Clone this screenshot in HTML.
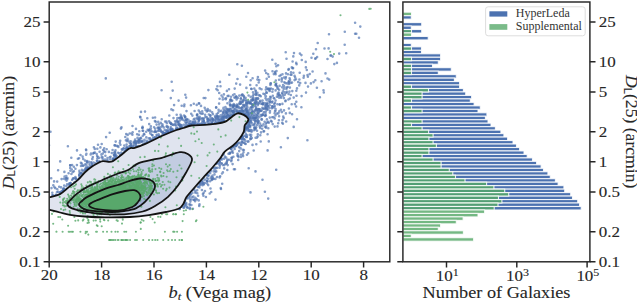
<!DOCTYPE html><html><head><meta charset="utf-8"><style>html,body{margin:0;padding:0;background:#fff;}svg{display:block;}</style></head><body>
<svg width="637" height="302" viewBox="0 0 637 302" font-family="Liberation Serif, serif" fill="#262626">
<rect width="637" height="302" fill="#fff"/>
<defs><clipPath id="cl"><rect x="49.2" y="2.0" width="340.6" height="259.8"/></clipPath></defs>
<g clip-path="url(#cl)">
<path d="M108.2 160.5h0M253.0 92.4h0M281.8 78.3h0M257.1 102.1h0M240.7 108.3h0M189.7 205.1h0M110.6 156.8h0M241.9 141.2h0M224.3 121.4h0M206.8 111.4h0M207.1 181.0h0M66.4 186.3h0M176.1 128.9h0M223.2 118.4h0M238.5 157.1h0M250.6 122.4h0M150.9 128.8h0M223.1 113.4h0M245.6 115.0h0M250.7 137.6h0M242.0 102.0h0M85.0 160.6h0M263.0 108.7h0M286.0 73.4h0M105.3 152.1h0M207.7 121.9h0M266.8 122.6h0M288.9 108.5h0M209.5 122.7h0M189.6 124.0h0M292.3 91.1h0M189.3 195.1h0M238.6 106.6h0M206.9 175.2h0M249.2 121.3h0M315.3 80.2h0M219.2 93.0h0M243.6 95.9h0M135.3 141.4h0M229.8 108.8h0M279.1 79.7h0M250.7 120.6h0M246.6 103.3h0M190.9 105.3h0M49.0 190.1h0M87.1 169.0h0M233.5 112.1h0M193.5 199.7h0M255.0 121.1h0M237.5 105.3h0M104.2 148.4h0M285.6 100.5h0M226.6 163.6h0M264.6 121.7h0M270.7 97.2h0M257.7 116.3h0M261.5 119.4h0M252.5 117.4h0M180.4 125.5h0M254.1 119.9h0M240.8 145.1h0M279.1 116.3h0M309.7 74.1h0M236.6 109.6h0M216.2 168.3h0M255.3 129.5h0M249.4 126.9h0M231.0 96.7h0M262.9 113.7h0M191.1 123.8h0M257.7 124.6h0M208.5 121.9h0M202.3 181.8h0M53.3 185.2h0M275.5 115.4h0M276.9 86.2h0M215.6 120.7h0M193.2 122.2h0M270.2 101.8h0M86.4 166.6h0M282.5 93.9h0M150.1 128.9h0M189.2 123.7h0M245.9 133.9h0M105.4 155.7h0M198.7 200.4h0M282.5 74.2h0M240.7 101.8h0M282.9 123.8h0M228.6 118.0h0M248.0 73.0h0M250.5 192.4h0M241.9 110.2h0M323.5 90.2h0M237.4 144.8h0M241.6 113.9h0M234.0 112.0h0M255.9 106.8h0M221.0 121.7h0M233.2 145.6h0M259.7 88.4h0M115.1 151.9h0M242.3 94.5h0M306.0 92.6h0M170.4 129.4h0M54.5 187.2h0M115.7 158.4h0M246.1 101.4h0M291.5 74.7h0M284.1 77.6h0M229.8 152.8h0M285.7 52.2h0M250.1 103.1h0M297.0 119.2h0M292.6 68.3h0M203.1 118.8h0M93.6 162.6h0M208.4 178.8h0M80.9 162.7h0M194.8 123.3h0M92.1 165.3h0M252.5 144.9h0M252.7 105.1h0M268.1 74.3h0M232.3 110.9h0M219.9 162.2h0M179.7 208.8h0M238.5 112.6h0M280.9 147.2h0M230.1 104.3h0M118.4 146.9h0M238.6 110.8h0M226.1 112.3h0M54.2 186.7h0M202.4 120.7h0M235.4 97.5h0M132.5 126.0h0M175.7 125.4h0M158.8 129.8h0M138.3 141.8h0M174.4 130.7h0M149.2 124.1h0M202.3 184.1h0M246.6 127.9h0M218.0 112.9h0M247.9 128.1h0M218.9 119.3h0M245.7 115.2h0M301.4 107.3h0M177.6 122.5h0M195.8 122.7h0M204.1 122.6h0M247.1 105.0h0M200.9 182.6h0M207.7 119.0h0M256.8 125.0h0M180.6 114.8h0M229.3 74.7h0M259.9 111.1h0M250.8 107.3h0M283.7 118.1h0M291.7 104.2h0M203.4 195.7h0M68.8 184.7h0M173.3 129.8h0M250.2 85.0h0M192.9 123.5h0M266.5 99.9h0M247.8 130.2h0M174.6 124.3h0M172.2 130.0h0M274.7 106.0h0M285.5 78.6h0M205.1 114.8h0M251.0 121.8h0M319.9 97.2h0M329.0 34.2h0M91.9 162.9h0M201.5 113.8h0M176.6 121.6h0M142.5 127.8h0M244.7 128.5h0M167.7 131.2h0M227.4 103.3h0M240.0 111.7h0M58.1 191.7h0M253.8 116.1h0M148.7 130.7h0M219.4 111.2h0M84.9 169.9h0M227.7 109.0h0M218.6 109.9h0M197.3 114.3h0M125.3 151.5h0M203.2 120.7h0M307.9 76.8h0M153.1 137.9h0M58.1 170.2h0M198.5 186.5h0M208.5 175.4h0M237.4 110.9h0M77.9 158.8h0M251.4 138.0h0M296.0 79.3h0M242.9 137.2h0M173.1 110.2h0M49.0 145.3h0M184.1 115.5h0M242.1 112.7h0M260.2 127.9h0M83.2 158.9h0M93.9 147.2h0M262.8 115.0h0M272.6 106.3h0M159.7 130.7h0M280.9 75.1h0M325.5 73.4h0M205.4 98.1h0M260.3 135.2h0M265.9 107.7h0M208.8 123.2h0M277.4 104.3h0M52.3 192.7h0M210.3 124.1h0M75.9 178.7h0M288.8 69.1h0M261.0 132.4h0M143.9 133.9h0M82.6 165.6h0M122.5 153.6h0M136.2 146.4h0M276.9 113.6h0M125.6 149.0h0M174.1 105.1h0M191.2 113.8h0M221.3 118.9h0M92.8 157.0h0M286.7 87.6h0M262.7 104.2h0M113.7 158.0h0M87.1 166.5h0M295.2 77.6h0M266.2 126.4h0M247.5 109.5h0M79.6 172.8h0M245.9 136.8h0M75.4 168.8h0M139.3 138.9h0M197.3 124.4h0M215.5 116.9h0M256.0 118.3h0M231.5 114.9h0M265.9 115.3h0M251.2 88.7h0M220.5 117.5h0M272.3 59.7h0M294.9 104.1h0M161.2 131.0h0M179.5 124.8h0M164.8 133.3h0M246.6 136.7h0M265.5 113.6h0M64.4 171.9h0M69.2 183.5h0M246.3 76.7h0M139.3 131.3h0M243.0 114.4h0M120.4 144.8h0M193.1 122.0h0M209.4 122.7h0M269.8 90.9h0M251.8 138.1h0M279.6 85.9h0M202.2 111.2h0M284.0 110.4h0M226.7 162.0h0M212.2 123.2h0M242.2 138.7h0M268.2 198.6h0M175.9 122.6h0M256.5 99.4h0M198.4 183.1h0M133.8 143.1h0M251.4 112.9h0M216.7 163.3h0M217.1 177.0h0M231.5 157.7h0M190.4 201.6h0M186.8 119.8h0M231.6 160.1h0M217.4 86.3h0M240.7 103.8h0M162.6 125.7h0M116.6 155.7h0M73.8 166.8h0M233.7 104.1h0M114.1 152.6h0M254.2 117.4h0" stroke="#4C72B0" stroke-opacity="0.68" stroke-width="2.6" stroke-linecap="round" fill="none"/>
<path d="M222.5 121.5h0M217.1 115.8h0M195.4 191.4h0M237.8 97.9h0M191.3 199.5h0M124.7 151.4h0M235.2 114.4h0M238.2 160.0h0M241.0 103.1h0M276.5 71.1h0M272.4 91.7h0M114.0 154.8h0M119.9 154.8h0M75.4 177.0h0M172.7 124.8h0M144.4 143.1h0M155.2 131.3h0M137.1 134.2h0M245.9 116.4h0M275.2 73.2h0M278.6 96.9h0M171.2 123.7h0M255.9 100.7h0M224.5 121.2h0M98.0 144.8h0M269.5 108.0h0M106.7 149.2h0M131.3 147.4h0M52.3 195.2h0M189.4 195.6h0M263.4 93.7h0M257.6 109.1h0M243.9 150.0h0M131.9 146.2h0M243.9 106.9h0M91.6 166.6h0M161.0 131.6h0M301.8 60.0h0M171.5 129.9h0M217.6 119.1h0M275.6 109.1h0M142.8 135.8h0M59.2 186.7h0M256.4 108.5h0M248.0 128.8h0M275.6 71.5h0M91.0 162.3h0M203.8 120.6h0M253.1 100.0h0M170.4 132.0h0M102.6 157.2h0M181.5 118.2h0M240.1 84.6h0M254.7 118.6h0M184.6 206.1h0M185.0 200.7h0M233.4 156.7h0M244.9 131.6h0M274.6 113.3h0M142.8 144.9h0M234.7 149.0h0M237.5 79.0h0M221.1 158.7h0M196.7 104.9h0M164.8 129.8h0M190.0 208.9h0M292.6 61.5h0M245.2 115.0h0M266.2 73.0h0M268.9 90.3h0M117.0 158.0h0M253.7 94.5h0M140.4 117.4h0M250.1 130.9h0M161.7 119.3h0M63.6 188.8h0M291.8 67.4h0M247.0 128.5h0M226.2 157.6h0M308.0 86.6h0M210.3 115.4h0M303.9 75.7h0M253.9 130.3h0M256.4 95.0h0M175.5 124.9h0M144.5 139.9h0M217.7 90.3h0M194.5 123.8h0M212.7 167.3h0M289.0 81.1h0M249.5 125.9h0M305.7 61.9h0M255.2 104.1h0M203.5 177.5h0M100.4 147.4h0M66.5 189.0h0M275.5 110.4h0M224.2 168.4h0M278.4 113.4h0M215.3 123.1h0M95.4 163.2h0M274.3 107.4h0M263.3 104.3h0M179.1 121.9h0M294.6 80.1h0M211.7 180.0h0M250.5 129.7h0M232.9 152.8h0M51.5 188.1h0M180.4 126.7h0M206.2 124.7h0M235.1 109.3h0M219.6 98.7h0M265.8 89.6h0M190.5 121.2h0M170.7 127.0h0M243.2 107.6h0M257.8 105.2h0M226.8 113.4h0M207.8 110.8h0M278.5 93.5h0M141.1 138.3h0M246.2 136.6h0M187.1 207.1h0M279.2 97.8h0M272.5 101.6h0M143.6 144.0h0M84.9 164.6h0M247.3 116.9h0M91.7 165.7h0M199.7 116.9h0M111.8 153.0h0M188.2 126.0h0M246.2 109.4h0M170.8 98.1h0M251.8 123.0h0M126.6 144.5h0M293.4 72.7h0M137.2 142.3h0M193.4 196.6h0M248.2 102.6h0M246.6 112.3h0M227.4 109.6h0M239.0 147.2h0M141.0 137.9h0M121.5 127.4h0M220.8 188.1h0M205.9 197.0h0M206.2 124.8h0M239.2 151.1h0M272.5 71.2h0M185.8 120.1h0M250.1 108.5h0M236.2 145.8h0M186.9 119.1h0M97.0 160.7h0M153.4 139.9h0M265.1 70.6h0M225.4 163.7h0M112.7 158.9h0M190.0 193.4h0M273.8 74.1h0M183.5 207.7h0M150.0 138.4h0M230.0 153.1h0M224.4 121.3h0M230.3 117.8h0M119.3 153.2h0M197.2 115.4h0M142.6 126.9h0M277.5 87.5h0M74.5 178.1h0M146.9 140.8h0M46.9 189.9h0M294.6 75.9h0M247.3 122.2h0M283.9 86.0h0M249.8 102.9h0M128.2 140.6h0M115.2 154.9h0M307.5 75.1h0M269.6 102.7h0M245.3 127.9h0M51.2 178.3h0M133.4 146.2h0M268.1 109.4h0M212.2 112.4h0M281.9 112.1h0M92.1 164.2h0M202.2 118.2h0M136.2 146.3h0M184.4 104.5h0M116.3 157.3h0M179.8 125.9h0M199.4 187.4h0M264.1 108.7h0M197.3 124.6h0M290.0 80.4h0M243.2 111.1h0M284.3 87.1h0M232.6 106.7h0M266.3 106.9h0M294.0 53.1h0M262.7 103.1h0M202.9 194.0h0M290.0 79.8h0M248.4 122.8h0M136.0 143.9h0M251.0 108.4h0M231.2 161.3h0M356.3 33.7h0M252.3 125.0h0M61.3 192.9h0M202.5 122.4h0M213.1 119.7h0M226.0 116.7h0M278.9 120.2h0M114.9 145.4h0M266.9 107.4h0M191.0 194.5h0M205.4 123.1h0M213.6 179.0h0M192.7 123.3h0M299.7 72.7h0M247.0 135.2h0M186.0 123.4h0M259.8 95.4h0M114.3 159.7h0M248.8 122.5h0M258.7 103.5h0M137.7 142.7h0M317.1 57.1h0M163.3 131.7h0M154.1 127.2h0M202.6 182.8h0M246.3 103.0h0M252.5 106.3h0M158.9 128.2h0M156.6 124.6h0M248.7 168.3h0M286.5 58.7h0M283.2 116.5h0M284.8 94.7h0M228.5 153.8h0M233.0 114.7h0M68.6 173.2h0M86.0 149.5h0M142.9 140.7h0M287.8 138.1h0M300.2 83.1h0M190.0 208.9h0M136.1 147.0h0M215.8 118.5h0M245.7 136.1h0M247.6 141.6h0M223.5 116.6h0M82.6 171.2h0M179.2 118.1h0M250.9 118.3h0M127.2 147.6h0M167.8 132.4h0M255.2 120.2h0M251.6 89.0h0M166.2 130.3h0M272.8 95.8h0M103.1 150.1h0M276.1 85.2h0M267.9 89.1h0M120.2 140.8h0M253.0 107.3h0M74.6 182.0h0M79.4 174.9h0M328.6 48.4h0M180.4 120.1h0M99.8 161.9h0M185.9 124.6h0M305.5 82.9h0M156.6 134.7h0M255.5 171.4h0M97.3 148.8h0M168.1 133.1h0M241.0 113.2h0M150.5 130.8h0M283.1 85.0h0M192.6 123.9h0M228.9 115.8h0M144.8 142.5h0M164.7 133.2h0M145.0 111.6h0M114.2 155.6h0M312.6 71.5h0M221.2 110.9h0M169.9 122.7h0M267.6 134.3h0M265.0 108.8h0M261.5 89.3h0M181.4 125.3h0M62.5 190.8h0" stroke="#4C72B0" stroke-opacity="0.68" stroke-width="2.6" stroke-linecap="round" fill="none"/>
<path d="M279.7 104.4h0M254.8 127.6h0M269.7 105.3h0M133.5 147.5h0M249.8 120.5h0M188.7 124.5h0M243.9 142.7h0M227.5 110.8h0M66.6 180.6h0M191.4 205.0h0M183.2 120.0h0M247.8 101.3h0M246.9 102.7h0M221.5 118.5h0M157.6 127.8h0M254.4 111.5h0M182.6 119.5h0M286.2 121.5h0M268.9 88.6h0M241.9 107.4h0M296.2 62.9h0M232.9 115.9h0M52.9 195.2h0M97.1 156.1h0M272.7 124.1h0M252.8 96.6h0M171.3 131.4h0M232.8 115.0h0M299.9 53.6h0M88.3 168.6h0M248.4 118.0h0M199.8 184.4h0M255.2 102.7h0M94.0 153.0h0M171.8 129.5h0M359.0 37.7h0M242.5 94.7h0M214.6 169.3h0M279.3 95.0h0M163.2 133.0h0M223.7 120.2h0M262.5 179.7h0M186.5 111.1h0M346.2 53.2h0M147.4 142.3h0M355.1 22.8h0M208.3 175.7h0M235.9 146.2h0M222.0 173.5h0M205.5 109.9h0M270.3 96.8h0M231.6 101.0h0M125.3 137.0h0M209.6 120.2h0M206.7 175.0h0M146.3 137.4h0M233.6 105.5h0M198.8 103.4h0M229.9 105.1h0M252.9 117.7h0M188.2 125.1h0M150.1 133.0h0M229.7 117.5h0M296.3 101.7h0M268.8 141.4h0M230.5 113.6h0M188.3 197.9h0M80.9 173.2h0M214.5 174.4h0M227.0 112.2h0M222.9 172.4h0M293.1 68.1h0M203.8 118.6h0M196.9 115.1h0M257.7 79.6h0M76.9 165.1h0M208.7 124.4h0M171.1 123.9h0M247.0 123.9h0M170.6 122.9h0M184.9 201.1h0M117.7 146.0h0M189.9 199.5h0M219.1 119.8h0M274.7 118.4h0M258.6 111.2h0M194.7 124.7h0M57.1 195.2h0M87.0 161.7h0M234.4 144.7h0M141.8 141.5h0M110.3 159.3h0M101.5 154.8h0M258.4 113.0h0M252.9 95.9h0M288.6 93.9h0M247.5 127.7h0M267.6 88.8h0M150.7 134.0h0M263.6 103.3h0M166.5 126.6h0M230.9 148.7h0M265.3 95.8h0M235.9 106.4h0M277.7 93.9h0M268.8 122.8h0M260.1 101.1h0M130.7 141.3h0M185.0 116.6h0M292.0 82.6h0M249.2 117.3h0M265.9 96.2h0M222.8 99.5h0M291.0 72.4h0M123.6 148.5h0M55.8 195.3h0M134.2 144.9h0M264.9 191.8h0M279.3 111.4h0M278.6 92.6h0M167.8 127.4h0M198.7 119.5h0M247.5 107.2h0M185.3 205.2h0M217.0 122.9h0M60.0 192.3h0M223.9 116.3h0M255.8 121.3h0M250.1 117.0h0M241.9 65.7h0M258.9 109.4h0M245.8 110.9h0M221.3 122.2h0M118.1 152.7h0M181.4 116.2h0M195.1 201.2h0M316.0 49.3h0M201.7 123.8h0M67.3 179.3h0M154.3 131.9h0M179.0 124.3h0M102.8 153.6h0M268.4 106.5h0M194.2 123.7h0M331.1 55.5h0M207.1 180.9h0M156.2 131.8h0M242.8 149.7h0M124.3 145.6h0M154.6 137.4h0M266.0 104.9h0M249.4 118.9h0M109.7 132.8h0M192.8 121.8h0M130.9 145.6h0M179.9 117.8h0M231.7 111.4h0M66.0 178.4h0M97.0 161.0h0M101.5 154.3h0M240.6 148.4h0M267.2 102.9h0M162.5 132.6h0M233.1 112.2h0M296.1 106.5h0M203.7 98.0h0M63.6 188.6h0M173.5 118.1h0M248.6 95.5h0M226.2 110.9h0M287.7 87.0h0M265.2 108.3h0M217.3 116.4h0M196.6 118.4h0M236.5 111.0h0M344.8 31.7h0M270.7 83.5h0M146.4 137.5h0M262.6 100.6h0M277.6 88.8h0M219.6 177.4h0M246.9 137.1h0M202.4 180.6h0M242.3 138.2h0M201.2 180.5h0M267.5 106.0h0M266.8 108.9h0M219.8 123.1h0M186.3 203.0h0M229.2 112.6h0M244.0 113.8h0M259.7 126.4h0M219.1 121.7h0M243.9 131.8h0M228.7 111.3h0M229.7 153.8h0M127.7 148.0h0M255.8 93.3h0M231.7 110.7h0M275.6 100.5h0M70.5 183.1h0M244.1 98.2h0M255.0 122.9h0M89.8 165.7h0M208.9 114.5h0M195.3 121.0h0M247.7 125.5h0M81.0 165.9h0M260.6 100.7h0M289.8 112.9h0M209.1 171.4h0M259.3 111.3h0M222.2 116.8h0M251.0 103.6h0M208.4 90.1h0M200.6 123.7h0M217.7 118.2h0M233.7 113.7h0M198.8 118.9h0M266.9 119.4h0M239.1 142.9h0M244.7 105.1h0M242.7 101.9h0M248.5 141.4h0M292.1 114.3h0M72.1 180.0h0M106.7 160.1h0M237.7 113.3h0M79.4 170.9h0M233.9 169.3h0M247.6 111.1h0M192.1 197.3h0M344.7 44.8h0M120.9 128.6h0M232.3 147.4h0M70.2 165.3h0M285.9 77.0h0M255.3 118.0h0M285.4 83.1h0M248.3 121.6h0M239.3 95.6h0M104.2 151.4h0M249.2 122.1h0M63.1 191.0h0M113.1 159.2h0M133.7 141.9h0M264.9 103.1h0M234.5 94.2h0M175.0 121.2h0M158.2 121.9h0M268.3 128.3h0M233.4 111.3h0M321.6 81.2h0M261.9 115.1h0M264.9 94.3h0M211.4 123.8h0M260.8 125.8h0M223.2 112.2h0M303.6 77.8h0M227.7 115.4h0M255.1 110.3h0M224.3 158.6h0M139.4 140.6h0M249.3 117.9h0M245.3 127.4h0M286.4 88.9h0M219.6 167.8h0M233.1 95.1h0M215.3 167.5h0M275.5 85.2h0M217.8 119.8h0M257.4 79.5h0M243.2 110.9h0M277.9 88.7h0M85.4 168.6h0M88.9 161.8h0M285.4 101.3h0M327.5 59.0h0M198.3 122.3h0M198.6 121.7h0M222.4 154.9h0M252.5 99.0h0M236.5 144.3h0M210.4 115.5h0M213.0 178.4h0M160.8 122.9h0M250.7 139.0h0M261.5 110.6h0M316.9 87.8h0M212.3 118.9h0M53.5 196.0h0M105.0 159.6h0M178.6 100.6h0M264.1 112.0h0M109.7 157.4h0M266.9 92.7h0M275.6 63.7h0M170.7 130.0h0" stroke="#4C72B0" stroke-opacity="0.68" stroke-width="2.6" stroke-linecap="round" fill="none"/>
<path d="M108.9 151.9h0M257.6 109.9h0M243.9 111.6h0M220.0 81.9h0M220.6 115.4h0M238.6 111.8h0M171.3 123.9h0M241.0 154.7h0M268.4 99.0h0M253.3 98.1h0M91.0 153.6h0M282.5 120.0h0M293.7 97.6h0M241.0 157.0h0M222.2 183.7h0M178.3 124.7h0M288.9 84.0h0M244.8 113.3h0M172.3 129.7h0M236.2 83.6h0M198.1 195.7h0M230.7 99.4h0M113.8 159.0h0M231.0 108.7h0M150.3 139.8h0M248.2 153.2h0M88.2 168.2h0M231.9 157.9h0M257.0 137.6h0M208.2 185.1h0M217.8 121.8h0M54.1 181.4h0M246.1 127.6h0M258.8 109.1h0M199.2 205.9h0M99.3 161.4h0M274.4 98.5h0M243.0 112.0h0M90.7 154.4h0M241.1 111.1h0M181.1 117.2h0M97.6 163.2h0M166.5 121.5h0M225.8 117.9h0M57.3 189.3h0M61.1 187.4h0M252.0 115.3h0M270.4 84.9h0M81.4 173.1h0M259.3 80.1h0M242.7 154.2h0M170.6 131.7h0M251.8 100.8h0M257.8 122.7h0M182.1 128.1h0M210.9 177.7h0M186.5 122.3h0M240.1 101.5h0M311.5 57.8h0M180.3 124.6h0M255.6 137.8h0M158.5 127.6h0M265.9 111.5h0M227.2 160.7h0M77.0 150.4h0M272.9 89.3h0M240.0 111.2h0M266.7 78.8h0M163.0 133.2h0M249.6 110.2h0M250.7 80.2h0M184.9 121.1h0M219.5 159.4h0M253.7 150.5h0M149.4 138.8h0M155.1 117.5h0M233.2 111.0h0M256.5 109.6h0M323.8 92.5h0M101.6 157.4h0M272.2 117.3h0M234.7 88.6h0M211.8 123.3h0M202.8 113.6h0M181.5 128.0h0M250.3 126.8h0M355.1 33.8h0M177.3 129.2h0M261.9 119.4h0M307.4 140.3h0M239.9 103.7h0M115.5 150.2h0M171.4 109.4h0M249.5 118.6h0M257.0 130.8h0M228.6 95.9h0M324.5 48.5h0M245.8 129.3h0M249.4 124.1h0M216.6 114.2h0M80.8 173.3h0M203.6 184.5h0M281.2 97.8h0M252.3 119.4h0M79.1 158.3h0M237.5 153.8h0M158.6 134.3h0M275.0 111.3h0M288.4 99.5h0M211.2 192.0h0M245.1 109.6h0M209.3 172.8h0M81.8 163.5h0M258.7 82.5h0M209.7 119.6h0M168.3 130.4h0M233.1 107.5h0M181.3 125.2h0M256.3 144.3h0M210.1 181.3h0M129.5 142.6h0M289.5 91.6h0M185.2 116.7h0M57.2 181.6h0M245.4 140.9h0M148.8 138.4h0M268.9 76.8h0M210.6 171.3h0M210.5 188.5h0M189.6 125.5h0M258.8 109.2h0M79.5 178.0h0M210.2 172.0h0M297.0 88.4h0M56.9 192.3h0M63.2 189.2h0M266.0 127.8h0M244.8 105.7h0M81.9 169.8h0M115.7 141.6h0M207.6 121.2h0M70.2 168.0h0M278.2 123.2h0M247.8 115.4h0M210.2 173.1h0M249.4 112.7h0M196.8 199.4h0M208.6 124.1h0M177.6 121.3h0M220.2 122.7h0M271.7 121.6h0M220.2 176.2h0M125.9 140.2h0M269.8 117.6h0M278.1 65.2h0M80.5 155.0h0M247.0 154.7h0M245.9 130.2h0M218.1 116.7h0M159.1 124.4h0M255.0 128.2h0M177.4 118.1h0M177.1 119.9h0M257.4 113.1h0M271.9 102.4h0M284.8 92.4h0M253.6 117.7h0M201.9 190.0h0M70.5 183.0h0M250.4 139.1h0M218.0 122.8h0M232.8 111.6h0M166.7 132.9h0M184.8 126.7h0M253.0 99.4h0M236.8 144.5h0M246.3 104.5h0M262.4 103.9h0M171.7 81.7h0M225.7 117.1h0M246.1 108.1h0M126.2 134.1h0M279.8 104.5h0M222.4 118.5h0M67.1 184.2h0M70.2 165.4h0M142.4 128.0h0M248.7 130.9h0M266.2 92.4h0M229.6 109.5h0M192.9 208.8h0M143.1 130.8h0M185.5 122.3h0M270.0 101.0h0M244.7 139.5h0M64.6 176.5h0M71.3 157.8h0M249.2 114.1h0M86.2 150.3h0M116.5 145.9h0M166.4 131.1h0M76.3 179.4h0M237.2 106.4h0M229.7 115.8h0M245.3 126.1h0M275.0 72.4h0M227.2 111.5h0M75.7 178.4h0M150.0 141.6h0M200.6 184.0h0M150.9 126.4h0M266.7 109.9h0M334.3 64.1h0M216.1 163.9h0M277.5 126.4h0M248.2 102.9h0M219.4 164.4h0M130.9 143.6h0M256.6 85.2h0M148.8 141.8h0M265.2 115.2h0M202.6 185.3h0M290.6 74.7h0M241.4 144.7h0M215.3 171.6h0M240.0 112.6h0M207.4 181.4h0M255.8 98.3h0M230.9 111.0h0M252.6 111.3h0M187.2 207.6h0M274.7 126.6h0M199.3 103.5h0M160.5 129.6h0M286.0 92.9h0M274.2 104.1h0M126.3 149.7h0M296.3 90.8h0M135.7 142.8h0M222.8 117.3h0M139.3 143.0h0M203.6 183.4h0M249.2 103.2h0M203.9 121.4h0M289.9 87.6h0M246.3 125.1h0M180.3 127.3h0M243.3 104.7h0M237.3 64.3h0M236.2 96.2h0M168.0 129.6h0M185.8 120.1h0M222.7 97.3h0M221.5 95.5h0M268.7 100.8h0M173.3 125.0h0M315.3 58.8h0M242.5 100.2h0M243.4 100.1h0M299.2 85.4h0M246.9 112.8h0M181.8 118.5h0M257.5 120.9h0M154.9 121.1h0M287.9 74.3h0M119.8 142.7h0M249.8 134.7h0M129.7 133.5h0M236.1 145.7h0M114.0 155.0h0M232.5 150.7h0M268.1 121.9h0M222.2 114.8h0M246.2 106.8h0M190.8 124.2h0M258.3 112.7h0M64.1 188.8h0M330.5 55.5h0M242.4 142.2h0M199.9 182.2h0M192.4 115.6h0M114.1 159.3h0M276.2 83.6h0M229.6 116.6h0M234.2 108.8h0M209.7 193.5h0M234.6 105.0h0M83.4 165.7h0M122.4 149.6h0M255.6 90.6h0M212.1 179.2h0M134.9 141.6h0M245.6 97.8h0M200.3 185.1h0M197.7 186.9h0M66.3 176.0h0M99.6 151.8h0M227.3 113.8h0" stroke="#4C72B0" stroke-opacity="0.68" stroke-width="2.6" stroke-linecap="round" fill="none"/>
<path d="M252.8 99.9h0M281.8 79.7h0M272.1 106.2h0M207.1 183.5h0M260.1 123.6h0M138.9 134.9h0M149.0 130.0h0M275.8 80.6h0M241.6 108.1h0M98.1 157.1h0M233.6 113.8h0M78.4 179.4h0M239.3 112.0h0M181.7 105.7h0M141.5 119.8h0M239.1 103.6h0M223.8 154.0h0M259.3 117.0h0M236.6 106.9h0M167.8 126.8h0M277.7 95.5h0M185.8 126.5h0M247.1 111.1h0M204.8 124.3h0M266.9 104.2h0M282.0 93.0h0M239.0 112.5h0M251.2 100.1h0M252.4 104.5h0M166.2 132.8h0M225.0 98.8h0M224.4 165.1h0M61.6 179.1h0M179.8 125.4h0M223.9 94.4h0M233.7 105.7h0M213.5 167.9h0M301.4 55.1h0M176.7 114.8h0M242.5 135.6h0M287.1 83.4h0M248.1 112.2h0M66.2 178.4h0M161.6 90.3h0M236.0 111.6h0M251.6 131.8h0M87.0 161.0h0M264.1 131.2h0M317.7 43.0h0M313.3 53.7h0M247.1 127.4h0M252.6 78.3h0M81.4 173.5h0M211.8 121.3h0M231.1 149.2h0M209.8 110.5h0M224.5 113.4h0M245.8 99.8h0M255.0 100.0h0M273.5 117.1h0M282.9 91.4h0M204.7 107.7h0M92.4 159.1h0M273.7 98.0h0M246.7 114.9h0M258.9 102.8h0M211.0 120.9h0M236.9 112.6h0M293.7 126.9h0M140.1 116.7h0M221.6 163.2h0M47.7 183.8h0M230.4 105.8h0M194.9 122.4h0M245.0 114.4h0M289.6 78.2h0M163.3 133.2h0M94.1 152.8h0M235.0 169.3h0M50.5 131.8h0M212.5 175.5h0M136.5 141.2h0M219.1 103.6h0M290.6 82.9h0M73.9 171.2h0M164.0 134.5h0M227.3 170.0h0M236.4 97.1h0M206.7 117.1h0M182.6 206.4h0M276.3 66.2h0M185.2 117.7h0M258.0 118.4h0M283.1 95.7h0M222.5 155.0h0M179.6 209.1h0M185.3 94.7h0M228.6 110.2h0M224.7 110.3h0M86.1 154.8h0M329.2 79.6h0M221.9 120.1h0M281.7 81.4h0M176.3 128.4h0M271.9 108.3h0M169.3 115.5h0M249.0 122.4h0M223.7 120.5h0M255.8 128.5h0M207.7 109.1h0M233.7 145.6h0M276.9 96.7h0M232.2 100.5h0M207.5 119.5h0M180.9 127.0h0M208.0 120.2h0M290.8 95.0h0M129.3 146.4h0M256.7 115.3h0M65.2 179.2h0M275.6 74.2h0M184.3 207.4h0M169.1 121.3h0M254.0 124.2h0M226.7 163.1h0M181.6 206.6h0M132.4 134.8h0M283.7 89.1h0M162.3 132.2h0M79.2 174.9h0M248.6 117.9h0M193.8 103.7h0M131.5 144.6h0M189.4 121.7h0M70.3 184.6h0M72.8 178.7h0M249.0 118.3h0M288.7 81.8h0M229.0 89.3h0M144.4 134.5h0M276.2 169.8h0M243.1 156.1h0M241.3 138.4h0M191.7 123.8h0M212.8 120.8h0M259.0 121.3h0M250.7 115.9h0M216.3 171.4h0M71.8 169.5h0M260.7 141.5h0M178.7 124.2h0M234.0 111.0h0M245.7 144.0h0M167.2 126.4h0M227.0 117.4h0M211.1 124.2h0M167.7 131.8h0M313.6 82.1h0M55.4 188.2h0M140.8 141.4h0M243.4 139.4h0M299.4 79.5h0M198.3 117.4h0M280.9 96.3h0M245.0 129.6h0M244.0 135.7h0M226.9 116.1h0M198.7 110.5h0M285.9 113.4h0M255.2 118.2h0M252.0 106.9h0M249.4 125.0h0M162.4 124.4h0M87.6 169.5h0M310.9 83.4h0M86.4 153.7h0M282.2 122.8h0M195.4 197.8h0M270.4 99.0h0M195.4 199.3h0M70.4 170.7h0M224.1 118.1h0M94.9 152.6h0M288.4 69.7h0M255.8 91.4h0M258.3 103.8h0M146.2 131.7h0M142.6 130.7h0M216.2 107.4h0M60.2 161.4h0M172.7 90.6h0M146.9 142.5h0M197.3 193.3h0M190.9 124.3h0M230.6 100.0h0M186.6 198.4h0M227.4 159.6h0M132.1 146.7h0M188.4 119.9h0M210.2 111.1h0M225.8 99.2h0M257.0 93.4h0M257.4 92.9h0M98.9 157.9h0M227.7 165.1h0M161.4 126.8h0M135.1 139.6h0M198.8 120.6h0M249.8 101.6h0M94.8 148.9h0M258.0 98.3h0M257.1 111.1h0M159.8 136.7h0M182.1 118.1h0M176.9 127.5h0M267.9 106.1h0M252.2 109.8h0M126.1 148.5h0M262.2 128.7h0M257.9 77.0h0M251.8 111.7h0M162.4 135.0h0M230.4 117.9h0M215.4 178.9h0M219.3 161.7h0M140.5 141.9h0M215.5 199.6h0M238.3 155.8h0M254.7 105.8h0M115.1 158.9h0M127.5 138.7h0M213.7 171.4h0M156.9 135.8h0M255.4 110.5h0M194.6 111.0h0M92.2 159.1h0M152.3 135.1h0M219.9 120.4h0M64.2 185.6h0M256.5 116.9h0M218.9 160.4h0M257.9 122.6h0M236.6 99.4h0M159.1 136.3h0M265.9 123.7h0M198.6 124.0h0M218.3 163.3h0M127.7 149.0h0M254.9 101.5h0M120.9 154.8h0M269.8 89.0h0M237.7 143.1h0M250.7 121.2h0M248.7 114.6h0M255.8 102.4h0M105.8 78.4h0M130.6 143.8h0M155.0 137.5h0M243.7 100.5h0M89.5 164.0h0M87.8 168.8h0M240.8 98.8h0M180.8 128.2h0M190.2 124.0h0M197.6 118.6h0M225.7 112.9h0M184.3 203.2h0M194.2 189.6h0M213.2 119.2h0M232.7 147.0h0M200.7 118.9h0M265.5 98.3h0M189.4 122.1h0M127.0 141.3h0M151.7 140.0h0M135.7 143.4h0M260.0 101.7h0M189.7 197.1h0M138.5 140.3h0M182.4 127.0h0M186.9 198.6h0M212.2 123.8h0M114.7 155.4h0M233.2 105.4h0M112.6 150.0h0M64.0 178.7h0M211.7 176.2h0M216.4 89.1h0M47.2 197.8h0M127.7 134.9h0M194.5 118.8h0M219.9 165.7h0M306.8 70.0h0M114.9 152.5h0M245.5 128.9h0M187.4 122.2h0M233.9 112.3h0" stroke="#4C72B0" stroke-opacity="0.68" stroke-width="2.6" stroke-linecap="round" fill="none"/>
<path d="M190.4 194.0h0M199.5 204.4h0M67.9 146.3h0M126.6 146.9h0M205.0 191.0h0M253.0 113.8h0M115.4 155.9h0M156.5 137.5h0M201.0 105.9h0M185.6 203.9h0M250.7 96.9h0M234.4 97.6h0M258.1 98.9h0M121.3 152.6h0M270.7 83.4h0M138.5 140.6h0M222.4 159.1h0M73.4 178.3h0M279.6 95.1h0M256.8 98.4h0M123.6 148.3h0M69.5 184.2h0M124.6 151.3h0M238.3 107.6h0M215.5 117.3h0M266.1 104.6h0M263.5 124.4h0M293.3 56.4h0M131.8 133.3h0M71.4 174.0h0M155.2 128.7h0M86.2 168.4h0M305.9 67.4h0M251.0 135.9h0M271.1 88.5h0M240.9 98.2h0M147.3 118.3h0M140.4 138.4h0M247.0 111.9h0M251.7 130.4h0M282.2 87.3h0M168.2 131.7h0M219.0 116.5h0M257.8 114.4h0M186.1 97.6h0M226.1 98.2h0M83.9 170.5h0M147.7 129.7h0M256.3 127.3h0M296.6 64.3h0M137.5 137.9h0M275.6 90.4h0M225.7 116.2h0M257.8 134.3h0M204.9 182.9h0M339.2 53.6h0M242.4 142.5h0M72.7 172.1h0M192.4 192.9h0M212.5 121.3h0M282.4 103.9h0M275.0 102.9h0M225.0 115.1h0M226.0 108.2h0M215.1 123.3h0M234.4 147.1h0M288.9 82.6h0M199.2 118.6h0M216.8 117.5h0M258.7 95.2h0M267.6 150.4h0M301.6 96.1h0M257.5 120.1h0M261.1 116.1h0M183.7 124.7h0M226.8 117.3h0M266.2 87.3h0M280.9 109.7h0M221.9 159.6h0M210.4 117.6h0M260.8 96.3h0M244.8 128.7h0M231.7 152.1h0M240.6 142.9h0M254.4 103.3h0M220.5 86.2h0M254.8 113.5h0M243.9 139.3h0M151.4 139.8h0M255.6 115.1h0M177.9 121.8h0M249.1 117.7h0M237.5 111.7h0M269.9 112.6h0M194.2 188.5h0M177.7 128.4h0M244.7 128.7h0M152.9 117.8h0M224.9 156.6h0M82.6 156.6h0M254.2 128.1h0M107.5 158.0h0M246.2 109.2h0M207.9 118.5h0M254.3 115.1h0M248.5 125.4h0M296.5 95.8h0M244.3 114.7h0M242.2 110.2h0M243.9 96.6h0M115.5 154.1h0M243.3 105.6h0M152.3 135.2h0M184.1 203.2h0M212.5 177.0h0M224.0 117.1h0M136.0 128.9h0M55.9 194.8h0M252.1 113.1h0M223.8 111.2h0M248.6 119.2h0M245.0 143.6h0M212.2 118.3h0M194.2 199.9h0M86.5 169.7h0M203.9 184.1h0M130.0 146.0h0M189.6 204.0h0M241.1 138.6h0M166.8 123.2h0M217.3 167.7h0M289.9 98.5h0M264.9 126.8h0M255.9 108.8h0M265.2 116.0h0M218.1 116.8h0M252.5 104.3h0M159.2 135.7h0M240.4 110.9h0M279.1 89.8h0M248.5 126.2h0M139.1 140.3h0M249.7 125.7h0M204.9 179.7h0M67.4 178.0h0M336.9 62.9h0M236.8 106.6h0M261.1 103.7h0M172.1 128.9h0M121.8 149.4h0M265.1 105.9h0M237.4 155.8h0M101.7 144.0h0M254.2 125.4h0M199.4 124.7h0M139.1 141.1h0M192.6 190.3h0M315.6 58.3h0M270.9 120.9h0M215.0 120.4h0M88.5 167.5h0M253.4 112.0h0M141.9 141.8h0M159.7 128.8h0M257.7 136.4h0M263.5 131.4h0M239.1 108.0h0M181.7 127.8h0M251.2 134.9h0M298.2 82.1h0M86.4 164.1h0M187.0 125.9h0M260.2 109.3h0M121.0 155.1h0M203.2 178.4h0M226.9 90.9h0M215.1 116.4h0M213.0 114.3h0M64.0 191.2h0M155.5 131.8h0M159.6 127.6h0M186.4 204.7h0M190.5 124.2h0M114.6 145.3h0M229.7 101.7h0M256.3 103.9h0M227.6 96.0h0M163.7 127.4h0M197.2 190.2h0M254.3 88.6h0M200.1 113.1h0M87.0 162.8h0M332.7 56.6h0M216.1 107.5h0M106.1 137.1h0M221.4 158.1h0M256.1 117.3h0M206.8 178.1h0M258.0 121.6h0M223.4 108.8h0M59.9 192.9h0M200.3 181.5h0M233.6 106.6h0M158.1 130.9h0M213.0 123.8h0M223.5 122.1h0M138.3 146.0h0M195.4 192.7h0M284.3 82.3h0M223.5 107.9h0M211.1 170.0h0M61.5 191.4h0M79.4 176.3h0M260.5 115.0h0M232.6 164.1h0M216.2 122.9h0M242.7 137.2h0M261.3 110.8h0M223.0 165.1h0M229.9 116.1h0M93.0 153.6h0M262.9 115.0h0M170.6 128.6h0M236.9 104.6h0M233.0 111.3h0M102.8 159.4h0M267.4 104.1h0M360.3 26.6h0M246.4 87.9h0M287.1 91.9h0M229.2 159.7h0M199.8 112.0h0M203.7 192.7h0M203.4 124.3h0M199.1 119.9h0M272.5 107.5h0M279.5 76.0h0M171.1 131.0h0M184.2 106.2h0M231.0 148.2h0M255.7 94.6h0M190.0 207.8h0M231.5 105.2h0M113.1 160.1h0M205.4 117.1h0M220.8 122.0h0M206.5 174.5h0M165.1 121.6h0M96.7 154.0h0M248.4 115.7h0M193.9 124.2h0M188.8 208.0h0M219.0 160.5h0M225.7 115.9h0M132.7 132.3h0M275.8 84.2h0M250.5 102.9h0M239.7 138.8h0M127.8 148.9h0M230.4 100.4h0M262.3 125.6h0M97.3 158.5h0M193.7 119.5h0M262.4 107.7h0M142.7 144.7h0M228.3 115.0h0M251.0 113.4h0M72.1 165.1h0M327.5 78.5h0M215.6 119.2h0M155.8 121.7h0M270.0 111.0h0M241.5 95.4h0M243.8 132.2h0M211.8 179.1h0M232.0 115.7h0M283.9 98.1h0M221.7 163.9h0M248.3 113.2h0M201.8 123.9h0M229.3 110.8h0M243.5 152.3h0M186.4 197.2h0M212.4 119.5h0M141.0 111.9h0M225.4 107.1h0M199.9 124.4h0M249.3 130.4h0M152.0 131.5h0M257.8 121.1h0M63.0 191.4h0M216.6 163.3h0M219.8 160.7h0M221.0 189.0h0M254.0 113.8h0M211.8 118.7h0M93.0 165.9h0" stroke="#4C72B0" stroke-opacity="0.68" stroke-width="2.6" stroke-linecap="round" fill="none"/>
<path d="M30.00 204.00C33.17 202.83 44.00 199.15 49.00 197.50C54.00 195.85 56.65 195.87 60.00 194.10C63.35 192.33 66.07 189.32 69.10 186.90C72.13 184.48 75.60 182.00 78.20 179.60C80.80 177.20 82.57 174.57 84.70 172.50C86.83 170.43 88.62 168.87 91.00 167.20C93.38 165.53 97.00 163.52 99.00 162.50C101.00 161.48 101.47 161.22 103.00 161.10C104.53 160.98 106.55 161.80 108.20 161.80C109.85 161.80 110.90 162.10 112.90 161.10C114.90 160.10 117.45 157.90 120.20 155.80C122.95 153.70 126.98 149.82 129.40 148.50C131.82 147.18 132.05 148.67 134.70 147.90C137.35 147.13 141.92 145.35 145.30 143.90C148.68 142.45 151.88 140.68 155.00 139.20C158.12 137.72 160.42 136.53 164.00 135.00C167.58 133.47 173.25 131.17 176.50 130.00C179.75 128.83 181.00 128.75 183.50 128.00C186.00 127.25 187.93 126.02 191.50 125.50C195.07 124.98 201.00 125.17 204.90 124.90C208.80 124.63 211.58 124.40 214.90 123.90C218.22 123.40 221.98 123.07 224.80 121.90C227.62 120.73 229.65 118.33 231.80 116.90C233.95 115.47 235.72 113.63 237.70 113.30C239.68 112.97 241.95 113.97 243.70 114.90C245.45 115.83 247.62 117.68 248.20 118.90C248.78 120.12 247.78 121.10 247.20 122.20C246.62 123.30 245.28 123.90 244.70 125.50C244.12 127.10 244.70 129.42 243.70 131.80C242.70 134.18 240.52 137.47 238.70 139.80C236.88 142.13 235.12 143.82 232.80 145.80C230.48 147.78 226.93 149.58 224.80 151.70C222.67 153.82 222.05 155.87 220.00 158.50C217.95 161.13 215.42 164.17 212.50 167.50C209.58 170.83 205.78 174.83 202.50 178.50C199.22 182.17 195.47 186.42 192.80 189.50C190.13 192.58 188.13 194.50 186.50 197.00C184.87 199.50 184.33 202.53 183.00 204.50C181.67 206.47 181.33 207.55 178.50 208.80C175.67 210.05 170.92 210.95 166.00 212.00C161.08 213.05 155.00 214.27 149.00 215.10C143.00 215.93 137.33 216.62 130.00 217.00C122.67 217.38 112.55 217.48 105.00 217.40C97.45 217.32 90.53 216.93 84.70 216.50C78.87 216.07 74.12 215.47 70.00 214.80C65.88 214.13 63.50 213.37 60.00 212.50C56.50 211.63 54.00 210.93 49.00 209.60C44.00 208.27 33.17 205.43 30.00 204.50C26.83 203.57 26.83 205.17 30.00 204.00Z" fill="#e0e4ef"/>
<path d="M67.30 204.20C66.97 202.90 68.48 202.18 70.00 200.50C71.52 198.82 73.52 196.37 76.40 194.10C79.28 191.83 82.45 189.47 87.30 186.90C92.15 184.33 100.38 180.93 105.50 178.70C110.62 176.47 114.23 174.95 118.00 173.50C121.77 172.05 124.65 171.73 128.10 170.00C131.55 168.27 134.22 164.92 138.70 163.10C143.18 161.28 151.13 159.97 155.00 159.10C158.87 158.23 157.77 159.05 161.90 157.90C166.03 156.75 175.45 152.82 179.80 152.20C184.15 151.58 185.97 152.90 188.00 154.20C190.03 155.50 192.37 156.87 192.00 160.00C191.63 163.13 188.17 168.70 185.80 173.00C183.43 177.30 180.77 181.83 177.80 185.80C174.83 189.77 171.67 193.52 168.00 196.80C164.33 200.08 160.00 203.05 155.80 205.50C151.60 207.95 148.10 210.03 142.80 211.50C137.50 212.97 131.13 213.92 124.00 214.30C116.87 214.68 106.17 214.18 100.00 213.80C93.83 213.42 91.67 212.92 87.00 212.00C82.33 211.08 75.28 209.60 72.00 208.30C68.72 207.00 67.63 205.50 67.30 204.20Z" fill="#c2cce1"/>
<path d="M79.00 204.50C78.83 203.25 80.62 202.27 82.00 201.00C83.38 199.73 83.38 198.95 87.30 196.90C91.22 194.85 100.38 190.68 105.50 188.70C110.62 186.72 114.25 186.20 118.00 185.00C121.75 183.80 124.40 182.58 128.00 181.50C131.60 180.42 135.85 178.75 139.60 178.50C143.35 178.25 147.93 178.83 150.50 180.00C153.07 181.17 154.70 183.37 155.00 185.50C155.30 187.63 153.97 190.07 152.30 192.80C150.63 195.53 147.73 199.32 145.00 201.90C142.27 204.48 139.40 206.78 135.90 208.30C132.40 209.82 128.08 210.38 124.00 211.00C119.92 211.62 117.07 212.05 111.40 212.00C105.73 211.95 94.73 211.28 90.00 210.70C85.27 210.12 84.83 209.53 83.00 208.50C81.17 207.47 79.17 205.75 79.00 204.50Z" fill="#9eadd0"/>
<path d="M144.6 186.6h0M114.4 187.9h0M119.8 188.7h0M113.7 186.5h0M107.9 213.7h0M169.6 165.1h0M118.3 189.2h0M152.1 171.4h0M140.3 179.3h0M69.1 197.1h0M84.5 198.5h0M113.7 189.8h0M100.8 192.7h0M104.3 176.9h0M117.0 188.7h0M138.6 189.0h0M91.5 194.7h0M122.1 177.2h0M96.0 196.2h0M86.3 203.5h0M128.0 183.9h0M106.9 191.1h0M136.7 183.8h0M157.2 183.8h0M137.5 188.6h0M131.8 180.7h0M76.1 202.2h0M130.0 185.3h0M160.2 172.1h0M129.7 184.0h0M106.1 196.1h0M109.9 214.7h0M144.0 182.6h0M133.8 188.2h0M86.1 199.1h0M121.3 180.9h0M91.5 200.1h0M118.2 186.2h0M207.6 155.4h0M89.6 200.0h0M141.7 187.4h0M80.4 231.7h0M117.7 172.6h0M101.9 192.6h0M101.4 192.0h0M149.4 181.7h0M151.3 183.3h0M106.2 194.7h0M130.6 189.6h0M84.8 199.9h0M88.3 189.4h0M90.6 200.1h0M88.7 208.7h0M103.0 197.6h0M85.7 209.2h0M141.5 185.4h0M88.6 202.6h0M82.1 203.5h0M135.0 187.8h0M91.2 188.6h0M122.0 223.6h0M201.7 143.0h0M153.1 179.8h0M139.1 189.1h0M81.3 184.3h0M108.0 182.7h0M116.6 184.1h0M143.6 195.8h0M109.5 190.0h0M120.0 190.9h0M247.4 92.6h0M85.5 201.1h0M86.0 206.2h0M97.3 184.5h0M122.5 190.2h0M143.0 170.2h0M105.8 187.0h0M117.9 180.0h0M81.0 190.3h0M101.9 193.0h0M107.7 191.3h0M106.5 186.2h0M88.0 192.3h0M108.1 195.5h0M95.6 182.0h0M97.6 226.0h0M111.4 187.5h0M118.5 186.1h0M134.5 187.6h0M77.0 195.8h0M162.0 185.0h0M103.9 196.2h0M84.0 206.8h0M90.8 198.9h0M95.7 194.2h0M117.2 211.4h0M175.7 214.2h0M125.7 185.2h0M117.1 191.2h0M93.5 188.6h0M122.1 185.1h0M96.2 200.2h0M114.5 184.1h0M125.4 187.2h0M136.5 182.7h0M153.1 179.6h0M115.0 184.4h0M70.3 206.5h0M83.3 207.4h0M111.3 188.0h0M125.6 190.5h0M132.0 180.0h0M161.4 176.5h0M62.9 205.3h0M68.7 231.7h0M130.0 188.3h0M139.7 180.5h0M118.7 188.0h0M142.5 189.3h0M107.5 191.6h0M120.8 191.8h0M73.7 206.8h0M112.4 193.2h0M133.3 184.3h0M104.1 192.6h0M100.8 190.3h0M113.5 186.0h0M94.8 191.2h0M83.9 192.6h0M98.1 194.9h0M157.4 184.5h0M91.1 209.2h0M116.7 190.0h0M128.3 176.1h0M127.8 189.1h0M93.0 200.9h0M124.0 186.9h0M96.8 184.6h0M150.5 188.9h0M63.6 210.1h0M90.7 192.0h0M129.1 184.1h0M170.3 182.2h0M99.8 184.7h0M115.6 192.8h0M124.5 182.7h0M109.9 181.0h0M103.3 196.1h0M78.7 199.8h0M95.5 196.8h0M125.2 186.0h0M108.2 187.2h0M81.4 195.3h0M124.2 182.1h0M107.9 191.1h0M99.7 192.7h0M115.6 190.7h0M94.5 196.7h0M87.9 192.7h0M133.3 185.6h0M155.6 180.8h0M102.6 191.2h0M92.8 196.1h0M138.8 187.4h0M145.8 180.9h0M79.9 209.1h0M110.6 184.3h0M94.3 197.7h0M95.2 197.1h0M97.2 199.5h0M119.8 187.8h0M102.9 195.3h0M107.7 187.8h0M101.4 192.9h0M108.9 193.9h0M90.1 196.9h0M95.6 193.4h0M105.4 191.6h0M67.4 201.1h0M102.9 194.6h0M125.6 190.0h0M100.8 193.0h0M84.3 201.3h0M151.2 185.4h0M89.9 193.8h0M94.8 188.9h0M89.6 208.0h0M107.5 193.4h0M134.3 180.0h0M86.7 190.1h0M142.3 187.0h0M85.7 199.6h0M117.8 191.9h0M93.5 198.4h0M121.8 240.0h0M163.2 240.0h0M94.1 193.3h0M117.9 189.6h0M60.2 217.1h0M114.4 192.4h0M149.3 168.3h0M130.7 189.9h0M88.4 198.9h0M138.4 188.0h0M106.2 190.4h0M108.7 193.3h0M149.2 169.8h0M128.7 184.4h0M105.5 195.9h0M119.1 184.3h0M86.5 195.4h0M81.9 208.3h0M91.2 199.4h0M369.3 8.9h0M111.5 190.6h0M107.9 192.4h0M124.6 189.4h0M104.1 186.8h0M92.0 194.2h0M90.9 208.3h0M74.9 205.3h0M88.1 203.8h0M111.1 184.9h0M118.8 190.7h0M218.3 129.4h0M95.6 188.5h0M150.4 217.0h0M135.2 178.3h0M86.6 206.6h0M126.0 240.0h0M96.8 211.3h0M135.9 231.7h0M93.0 188.7h0M108.9 183.7h0M83.2 207.8h0M110.3 192.4h0M100.1 198.3h0M90.6 192.2h0M91.9 208.6h0M120.0 184.2h0M132.2 176.7h0M98.8 195.3h0M119.9 182.8h0M137.4 188.1h0M104.4 220.3h0M86.8 208.2h0M116.4 186.0h0M85.7 203.0h0M107.4 196.0h0M129.5 186.2h0M107.0 189.8h0M139.6 189.0h0M173.6 214.2h0M135.7 204.9h0M143.7 192.0h0M137.5 186.7h0M134.3 189.9h0M129.7 189.4h0M103.2 195.6h0M87.3 191.9h0M120.1 189.2h0M152.3 166.3h0M92.2 189.2h0M102.0 193.0h0M138.5 172.6h0M118.1 186.6h0M120.3 188.8h0M125.2 186.4h0M95.2 179.8h0M92.2 193.5h0M101.2 192.5h0M87.8 190.6h0M106.5 187.4h0M107.5 195.9h0M115.1 186.9h0M124.8 186.0h0M245.6 121.2h0M92.7 188.0h0M114.6 190.2h0M217.3 151.6h0M107.3 192.2h0M139.9 194.2h0M122.7 190.4h0M129.1 185.0h0M91.5 196.3h0M97.2 209.9h0M120.1 189.8h0M90.7 197.2h0M63.1 200.8h0M114.3 190.0h0M149.5 187.3h0M126.4 184.4h0M97.4 210.3h0M99.0 198.7h0M147.6 187.7h0M143.2 190.4h0M114.8 185.2h0M144.7 156.9h0M94.4 197.1h0M85.6 194.8h0M81.1 201.2h0M116.0 188.8h0M86.4 187.9h0M102.3 191.5h0M91.6 201.3h0M90.5 207.6h0M125.2 190.6h0M112.7 186.2h0M94.6 200.4h0M163.4 176.0h0M90.6 197.8h0M136.1 187.2h0M71.7 200.5h0M112.3 193.9h0M90.2 195.8h0M129.1 190.2h0M101.0 192.7h0M141.0 177.3h0M118.9 186.1h0M94.6 191.3h0M110.6 192.6h0M144.8 183.9h0M106.8 183.0h0M70.5 203.4h0M97.5 209.7h0M121.0 188.6h0M104.0 190.8h0M176.8 205.2h0M108.0 186.3h0M118.2 161.2h0M99.9 197.1h0M107.2 188.4h0M117.4 191.8h0M88.6 202.8h0M132.5 183.6h0M81.2 204.7h0M239.4 117.1h0M97.4 199.7h0M106.2 210.5h0M116.9 190.5h0M130.0 188.5h0M95.2 188.7h0M99.2 193.4h0M95.0 192.4h0M78.9 201.1h0M94.1 200.8h0M105.2 184.4h0M89.9 195.7h0M116.1 192.7h0M95.7 194.7h0M91.7 208.0h0M116.0 188.0h0M197.0 131.6h0M111.7 193.2h0M80.7 201.3h0M129.6 187.4h0M95.2 190.7h0M102.4 193.6h0M104.2 194.7h0M85.7 199.1h0M151.8 187.4h0M84.7 200.4h0M81.8 205.2h0M122.9 191.0h0M112.8 187.7h0M95.2 188.0h0M110.8 186.7h0M116.6 183.7h0M102.9 182.9h0M87.3 191.0h0M110.6 186.5h0M113.7 193.2h0M101.4 198.2h0M183.8 214.2h0M118.7 187.8h0M114.7 188.6h0M101.8 190.5h0M85.8 231.7h0M111.8 192.5h0M113.5 188.1h0M121.1 191.6h0M81.0 202.5h0M129.9 182.8h0M83.0 213.5h0M109.1 187.5h0M86.6 195.9h0M112.9 192.3h0M121.5 185.1h0M334.0 54.1h0M144.3 184.8h0M123.1 179.9h0M95.1 187.4h0M96.8 188.6h0M159.2 180.5h0M141.2 193.9h0M99.7 191.9h0M91.5 183.7h0M82.8 203.4h0M111.4 189.6h0M99.2 195.7h0M155.0 150.9h0M144.7 191.2h0M91.6 196.4h0M137.9 190.3h0M68.1 194.5h0M143.2 177.5h0M97.4 195.9h0M103.3 184.6h0M111.3 191.5h0M96.5 197.1h0M114.4 193.4h0M79.6 203.5h0M129.8 177.3h0M108.7 192.2h0M79.7 201.5h0M93.3 192.8h0M103.8 190.0h0M90.8 201.9h0M125.7 183.9h0M88.4 186.8h0M92.8 189.2h0M105.7 194.4h0M87.7 201.2h0M122.9 188.3h0M139.3 181.6h0M102.0 198.2h0M88.3 219.7h0M114.6 192.2h0M119.3 189.1h0M118.8 180.7h0M88.2 191.6h0M118.1 191.4h0M111.6 189.9h0M111.1 185.0h0M150.4 192.9h0M124.2 187.1h0M87.9 197.3h0M102.7 188.3h0M108.9 181.3h0M66.1 202.3h0M151.9 186.5h0M138.6 174.9h0M112.3 186.5h0M138.2 182.4h0M145.2 175.4h0M91.4 188.6h0M118.4 189.7h0M96.0 195.5h0M88.8 203.5h0M123.1 186.1h0M119.3 186.0h0M157.5 240.0h0M105.1 194.5h0M99.3 191.0h0M118.3 190.6h0M87.1 202.1h0M99.0 194.5h0M91.7 188.3h0M112.6 187.1h0M93.1 210.2h0M115.0 187.4h0M106.7 185.2h0M151.7 186.9h0M98.1 192.9h0M68.8 195.9h0M155.6 186.6h0M152.0 186.2h0M83.6 208.5h0M94.1 191.0h0M106.0 195.6h0M118.3 180.4h0M94.1 193.2h0M106.1 193.6h0M87.3 208.6h0M110.9 188.1h0M81.8 185.9h0M192.4 209.1h0M112.9 180.0h0M81.2 200.5h0M144.0 190.7h0M165.9 153.2h0M119.8 185.6h0M101.4 195.2h0M119.1 179.8h0M90.6 201.0h0M94.7 189.8h0M101.0 183.5h0M97.5 192.5h0M84.9 204.0h0M111.1 178.2h0M160.4 216.9h0M145.6 190.4h0M123.1 186.7h0M95.5 211.5h0M101.6 192.1h0M109.9 187.6h0M121.4 190.6h0M112.1 185.1h0M111.3 192.8h0M132.0 180.8h0M100.4 211.8h0M121.3 190.7h0M134.8 185.6h0M103.1 188.0h0M97.6 198.0h0M99.7 211.3h0M140.6 187.5h0M122.4 183.1h0M116.9 175.4h0M139.0 176.1h0M118.5 188.3h0M95.0 194.9h0M85.2 192.3h0M99.0 195.5h0M135.7 180.7h0M105.4 185.7h0M85.8 196.8h0M130.8 177.4h0M116.6 185.3h0M127.0 184.2h0M99.1 195.4h0M147.3 184.0h0M104.5 189.7h0M96.9 231.7h0M83.5 219.6h0M142.1 186.4h0M248.1 99.8h0M119.9 172.4h0M145.0 187.5h0M117.3 190.2h0M144.1 178.0h0M88.6 204.2h0M90.8 209.0h0M112.1 188.8h0M130.8 170.5h0M150.5 183.7h0M98.4 199.7h0M108.0 194.4h0M102.8 192.4h0M150.0 188.4h0M94.6 200.7h0M134.6 185.1h0M107.1 193.5h0M140.6 182.4h0M89.6 197.9h0M91.5 200.4h0M90.2 194.1h0M56.4 231.7h0M108.6 192.2h0M125.0 172.6h0M87.4 199.4h0M95.5 189.6h0M123.1 185.1h0M274.4 82.2h0M77.1 200.2h0M149.1 176.0h0M122.0 189.0h0M83.1 190.6h0M123.0 180.1h0M158.9 178.3h0M76.7 195.4h0M91.0 199.2h0M103.2 192.6h0M62.6 231.7h0M155.2 179.0h0M71.0 195.5h0M141.0 175.5h0M95.8 220.5h0M125.7 173.4h0M115.4 187.8h0M115.9 192.6h0M98.9 198.6h0M64.3 198.3h0M75.8 199.3h0M141.5 189.1h0M90.7 194.5h0M123.6 211.0h0M98.4 193.9h0M100.6 210.8h0M145.5 190.6h0M95.0 194.6h0M122.2 187.2h0M81.0 207.0h0M88.5 201.9h0M114.5 191.2h0M100.3 193.9h0M115.3 190.3h0M146.2 174.3h0M182.4 177.3h0M97.1 186.5h0M87.5 202.8h0M97.9 199.5h0M92.5 196.1h0M75.8 200.7h0M88.5 201.0h0M101.2 193.9h0M90.8 200.2h0M142.7 193.4h0M72.1 193.6h0M59.7 196.9h0M143.5 188.0h0M253.4 104.8h0M74.7 204.5h0M125.6 183.7h0M94.5 200.1h0M129.1 180.5h0M84.3 202.7h0M124.2 186.5h0M94.9 190.6h0M95.3 210.7h0M131.4 189.6h0M119.4 190.8h0M150.0 179.9h0M136.7 185.6h0M101.5 211.9h0M152.1 185.9h0M99.8 192.0h0M117.9 190.9h0M123.5 177.4h0M136.5 186.6h0M70.3 198.0h0M129.4 176.9h0M107.9 183.7h0M96.5 198.5h0M140.8 190.3h0M138.1 182.8h0M114.1 192.1h0M127.7 240.0h0M105.9 191.8h0M98.4 194.0h0M141.7 219.7h0M199.2 178.1h0M130.1 188.5h0M105.1 188.8h0M91.3 194.3h0M137.9 185.2h0M100.2 192.9h0M77.2 193.6h0M102.2 185.5h0M88.3 201.0h0M98.9 194.5h0M118.2 191.0h0M98.9 209.8h0M145.4 182.2h0M90.1 202.5h0M110.0 189.7h0M143.5 220.7h0M195.9 221.2h0M118.7 176.7h0M122.1 184.6h0M113.2 190.7h0M157.5 177.7h0M113.6 184.9h0M107.4 193.3h0M102.5 186.8h0M126.6 240.0h0M87.3 200.6h0M86.2 203.3h0M112.3 182.6h0M125.7 182.2h0M92.1 201.6h0M99.5 198.7h0M76.5 202.9h0M105.2 181.9h0M123.2 187.4h0M130.1 189.3h0M71.7 196.5h0M130.2 179.2h0M124.5 183.4h0M93.9 197.0h0M128.8 176.9h0M194.3 133.9h0M100.0 184.6h0M128.8 170.4h0M99.3 197.6h0M105.3 211.0h0M130.6 188.6h0M124.7 183.2h0M99.8 192.9h0M62.9 202.9h0M131.0 187.0h0M116.4 192.8h0M105.4 195.2h0M90.1 201.6h0M97.9 193.5h0M118.3 190.7h0M81.2 189.8h0M93.5 199.0h0M125.3 188.8h0M120.4 189.6h0M80.0 199.7h0M193.7 127.2h0M116.5 190.2h0M174.5 231.7h0M96.3 198.7h0M141.4 206.8h0M102.6 196.9h0M109.8 240.0h0M118.0 192.2h0M139.8 190.5h0M88.3 192.8h0M76.5 200.2h0M117.1 181.6h0M83.0 208.2h0M102.1 196.0h0M137.3 181.3h0M105.7 180.7h0M108.9 184.4h0M81.6 199.9h0M91.2 191.5h0M98.6 199.4h0M124.1 182.3h0M111.5 192.2h0M144.9 181.9h0M137.4 188.2h0M116.2 184.7h0M73.7 202.2h0M115.0 183.1h0M114.3 186.7h0M117.7 189.3h0M143.4 185.8h0M131.4 178.4h0M141.8 177.2h0M133.2 183.4h0M123.5 188.5h0M97.8 211.2h0M107.2 189.3h0M88.9 191.3h0M100.7 193.4h0M120.7 191.4h0M95.7 197.9h0M100.2 188.3h0M139.5 191.7h0M82.3 204.2h0M94.4 182.2h0M106.9 194.4h0M76.0 206.0h0M129.0 178.9h0M112.9 186.1h0M83.4 200.7h0M150.8 191.1h0M86.4 185.6h0M124.9 190.8h0M98.7 181.1h0M115.4 190.4h0M110.4 178.9h0M139.6 193.3h0M137.9 186.8h0M157.4 184.8h0M138.9 189.8h0M106.1 194.7h0M87.3 217.9h0M74.7 192.1h0M114.1 187.1h0M116.8 188.4h0M110.4 179.2h0M123.1 185.2h0M173.3 214.2h0M107.2 184.0h0M370.7 8.8h0M89.9 203.8h0M83.7 201.6h0M179.5 165.2h0M95.0 194.3h0M142.3 190.6h0M78.4 197.1h0M112.7 194.0h0M97.7 193.3h0M138.5 185.2h0M154.0 165.5h0M69.8 202.2h0M136.6 184.7h0M85.8 202.0h0M87.3 200.9h0M137.3 189.3h0M75.4 220.8h0M147.7 178.7h0M104.2 195.5h0M131.8 189.1h0M101.2 193.4h0M113.1 180.4h0M124.8 189.4h0M98.7 191.1h0M118.2 180.9h0M81.1 205.7h0M89.0 196.1h0M112.2 179.0h0M93.0 190.2h0M116.5 182.9h0M141.8 197.3h0M231.2 120.6h0M84.9 192.5h0M104.5 195.0h0M119.1 185.0h0M114.5 191.5h0M116.5 187.5h0M117.2 189.9h0M110.5 185.6h0M122.0 183.3h0M101.4 197.9h0M112.9 191.1h0M131.2 179.2h0M117.8 231.7h0M191.3 175.8h0M103.3 193.3h0M103.1 231.7h0M146.9 181.3h0M124.7 181.6h0M198.9 139.2h0M115.4 231.7h0M163.1 188.7h0M110.6 192.1h0M131.5 186.3h0M89.9 191.5h0M108.2 191.3h0M124.3 190.5h0M97.0 193.2h0M91.9 194.7h0M115.5 187.1h0M166.7 188.9h0M131.4 186.4h0M76.5 202.1h0M103.0 197.5h0M121.0 186.2h0M84.5 198.4h0M135.1 240.0h0M123.2 187.2h0M70.0 231.7h0M96.8 193.2h0M132.0 207.3h0M131.7 178.9h0M89.9 195.3h0M100.4 197.7h0M112.7 182.6h0M128.0 180.6h0M69.5 198.0h0M136.3 180.1h0M133.6 165.5h0M106.8 193.9h0M145.7 185.6h0M111.8 181.7h0M169.5 187.6h0M86.7 207.5h0M133.3 183.7h0M116.9 189.4h0M145.7 189.3h0M77.0 191.6h0M83.8 198.8h0M83.4 187.5h0M97.9 189.0h0M100.4 193.0h0M124.4 186.3h0M99.6 193.6h0M106.4 192.9h0M132.3 180.1h0M137.4 185.5h0M103.2 185.4h0M103.2 191.9h0M145.8 182.6h0M106.2 193.5h0M119.0 185.3h0M114.7 190.6h0M77.7 208.5h0M130.3 187.4h0M115.6 189.3h0M104.2 191.2h0M131.7 182.1h0M122.8 190.2h0M107.1 190.6h0M134.9 180.5h0M121.7 188.3h0M93.9 196.5h0M136.6 190.8h0M91.9 210.7h0M158.1 216.8h0M140.5 206.1h0M118.6 171.4h0M58.3 217.0h0M133.1 176.9h0M117.4 192.4h0M132.4 176.8h0M160.8 137.4h0M84.6 203.0h0M95.1 195.5h0M157.4 193.2h0M71.0 187.3h0M82.3 195.0h0M220.9 136.8h0M126.7 189.4h0M79.8 204.3h0M100.3 221.6h0M91.6 209.7h0M143.4 178.9h0M90.6 199.3h0M130.7 182.5h0M73.2 186.5h0M132.8 179.7h0M105.2 192.8h0M129.0 184.6h0M109.4 189.1h0M130.0 173.6h0M96.2 192.8h0M115.1 181.8h0M118.9 182.5h0M96.1 231.7h0M112.2 186.1h0M137.9 180.1h0M84.5 198.7h0M99.4 197.4h0M122.1 185.7h0M130.6 178.6h0M140.3 200.6h0M120.8 187.5h0M86.7 205.1h0M98.0 210.6h0M132.1 183.2h0M122.3 182.1h0M115.4 192.5h0M124.6 179.2h0M121.6 184.9h0M133.7 179.6h0M118.6 184.7h0M98.2 189.6h0M88.8 194.4h0M77.6 198.6h0M110.3 187.6h0M94.1 208.8h0M139.4 183.8h0M95.6 198.9h0M66.1 203.3h0M116.1 192.7h0M136.6 177.0h0M110.6 189.9h0M143.3 186.1h0M86.3 197.5h0M114.0 190.8h0M92.3 213.3h0M98.0 192.7h0M144.1 202.5h0M132.5 188.9h0M80.4 198.6h0M87.4 195.1h0M110.7 194.0h0M149.0 170.9h0M53.2 223.8h0M132.6 188.5h0M77.8 194.6h0M123.0 181.1h0M94.6 194.0h0M110.2 240.0h0M90.1 201.8h0M90.3 200.3h0M83.5 207.6h0M78.6 197.5h0M80.6 200.5h0M111.9 188.2h0M110.7 193.5h0M107.9 186.9h0M110.2 190.7h0M56.5 231.7h0M157.5 180.2h0M120.6 182.3h0M109.0 193.0h0M101.2 189.1h0M140.2 198.8h0M117.3 189.0h0M112.7 193.0h0M173.1 214.2h0M91.0 182.0h0M111.3 194.3h0M130.0 178.0h0M176.0 186.6h0M95.4 193.5h0M71.8 231.7h0M110.9 193.5h0M157.9 186.6h0M106.7 185.4h0M89.6 200.7h0M90.5 185.7h0M170.8 169.1h0M90.1 196.5h0M73.0 199.9h0M95.6 195.5h0M97.2 191.8h0M120.1 181.0h0M106.9 186.8h0M80.0 200.7h0M81.4 205.0h0M103.5 188.4h0M100.7 192.8h0M119.9 187.7h0M139.1 189.5h0M103.6 196.7h0M97.7 194.0h0M97.1 183.5h0M122.6 186.3h0M91.6 197.0h0M104.5 193.2h0M140.7 222.2h0M92.0 185.4h0M122.2 188.1h0M94.9 210.1h0M103.7 196.0h0M146.5 191.9h0M95.1 195.0h0M68.1 225.8h0M158.4 181.5h0M125.4 181.6h0M104.3 196.7h0M73.6 191.5h0M104.4 190.6h0M175.2 190.5h0M129.5 178.7h0M152.5 188.9h0M85.7 203.7h0M107.3 192.6h0M95.2 195.4h0M96.4 198.1h0M121.3 190.4h0M81.6 195.7h0M135.8 189.5h0M102.6 193.8h0M107.4 182.7h0M135.1 181.2h0M120.1 181.4h0M94.3 193.7h0M81.5 195.6h0M126.6 189.6h0M116.4 192.3h0M114.4 186.1h0M97.0 199.7h0M155.5 189.9h0M79.3 201.1h0M80.5 206.8h0M97.2 190.1h0M101.3 214.3h0M93.2 201.3h0M90.8 196.6h0M136.1 181.9h0M120.8 186.8h0M115.4 189.2h0M144.0 196.1h0M115.1 212.4h0M100.1 193.7h0M139.0 178.7h0M104.2 197.0h0M101.7 226.2h0M115.3 191.0h0M101.4 193.2h0M121.5 190.7h0M99.0 196.3h0M143.1 176.7h0M124.0 188.2h0M104.3 196.2h0M103.8 194.0h0M89.5 201.0h0M161.3 168.9h0M136.7 184.7h0M109.3 189.7h0M108.6 186.7h0M109.3 193.8h0M139.1 189.0h0M110.4 194.5h0M93.2 194.0h0M114.2 183.5h0M140.6 188.6h0M123.3 190.6h0M84.1 190.5h0M89.3 196.9h0M121.0 177.7h0M115.8 179.5h0M82.9 202.8h0M105.9 183.9h0M117.9 191.7h0M90.1 188.3h0M108.1 193.0h0M81.6 188.3h0M103.0 192.9h0M85.8 197.6h0M113.4 177.9h0M142.2 192.7h0M99.1 192.7h0M81.1 200.0h0M87.8 192.5h0M89.1 201.8h0M91.5 191.3h0M63.2 199.4h0M108.6 194.7h0M119.8 186.1h0M83.6 190.5h0M116.4 186.9h0M111.4 193.0h0M90.5 190.7h0M179.4 240.0h0M91.3 197.5h0M181.7 240.0h0M94.3 179.4h0M87.5 223.0h0M137.5 181.1h0M108.1 192.7h0M96.1 192.2h0M126.4 180.6h0M125.3 190.6h0M96.2 197.2h0M93.7 196.3h0M96.9 196.0h0M136.0 186.1h0M131.2 181.7h0M95.8 194.0h0M85.8 205.7h0" stroke="#55A868" stroke-opacity="0.8" stroke-width="2.1" stroke-linecap="round" fill="none"/>
<path d="M164.9 231.7h0M121.1 191.4h0M122.0 175.4h0M113.6 186.3h0M132.3 176.6h0M123.5 240.0h0M104.7 188.2h0M94.9 209.9h0M109.1 187.9h0M73.3 192.7h0M121.4 191.6h0M141.7 188.8h0M140.5 169.6h0M74.7 188.8h0M86.5 203.5h0M97.3 194.8h0M127.8 178.5h0M115.7 185.6h0M88.8 209.6h0M94.2 197.2h0M96.5 200.2h0M136.4 187.7h0M110.2 183.5h0M112.9 167.2h0M95.5 188.1h0M89.6 202.6h0M119.2 184.4h0M128.1 190.3h0M117.8 191.6h0M124.8 183.1h0M95.7 192.2h0M92.9 210.6h0M125.4 185.2h0M99.0 198.0h0M83.2 208.6h0M87.8 201.5h0M88.2 209.9h0M111.5 231.7h0M89.2 195.7h0M82.1 205.9h0M106.5 190.0h0M145.6 175.0h0M131.6 183.2h0M86.8 203.9h0M102.3 194.6h0M144.2 180.2h0M90.5 210.7h0M92.9 193.2h0M79.3 204.8h0M92.6 197.3h0M133.6 183.0h0M156.2 181.0h0M127.4 189.4h0M82.7 206.1h0M93.1 210.0h0M126.9 181.4h0M109.6 192.1h0M97.5 199.4h0M125.9 187.7h0M181.4 168.5h0M119.2 190.4h0M126.2 185.2h0M139.8 191.5h0M128.2 184.8h0M116.8 192.3h0M87.8 203.5h0M128.0 176.1h0M103.2 188.4h0M137.9 188.7h0M85.7 199.8h0M80.0 205.9h0M82.5 212.2h0M92.7 199.7h0M116.6 191.6h0M150.6 182.2h0M123.7 190.9h0M92.9 201.2h0M132.8 187.8h0M74.7 185.7h0M114.1 189.3h0M97.6 199.1h0M134.3 175.9h0M162.8 182.0h0M92.6 198.3h0M88.3 234.6h0M119.7 184.8h0M148.5 185.8h0M167.8 171.2h0M100.0 197.2h0M140.8 228.9h0M92.2 186.7h0M80.8 204.5h0M125.8 187.8h0M102.2 190.1h0M92.7 195.4h0M80.3 200.2h0M112.0 192.3h0M86.2 202.4h0M88.5 195.6h0M114.8 192.8h0M121.1 179.6h0M97.0 192.9h0M110.9 186.4h0M92.4 209.9h0M102.5 187.6h0M122.6 185.4h0M53.8 211.4h0M81.8 201.0h0M140.9 187.1h0M120.2 186.6h0M127.7 185.3h0M129.8 186.8h0M60.3 202.5h0M153.2 178.9h0M118.5 188.5h0M92.0 199.2h0M113.7 187.3h0M77.2 197.6h0M89.3 209.6h0M110.1 194.7h0M113.8 191.4h0M123.9 185.2h0M150.2 171.9h0M150.3 186.4h0M121.5 175.4h0M145.8 187.6h0M103.6 191.4h0M89.7 184.9h0M64.5 206.5h0M80.6 210.7h0M109.0 190.0h0M139.5 193.2h0M63.3 199.5h0M104.5 193.7h0M108.4 187.0h0M110.9 185.6h0M103.6 194.7h0M150.2 170.7h0M116.3 185.3h0M152.3 191.0h0M141.5 190.4h0M108.0 186.2h0M138.8 182.1h0M159.9 184.0h0M129.9 187.5h0M91.0 198.5h0M103.7 191.6h0M89.4 201.9h0M127.2 182.8h0M125.7 188.2h0M126.1 178.3h0M124.6 185.7h0M94.2 196.8h0M106.3 184.9h0M84.7 195.9h0M139.0 178.0h0M82.0 205.8h0M150.9 185.7h0M80.0 206.1h0M104.7 191.6h0M93.4 197.8h0M93.0 184.4h0M121.7 188.1h0M135.4 177.7h0M118.5 179.0h0M94.0 200.4h0M74.2 200.1h0M107.7 193.0h0M108.2 193.4h0M134.8 182.5h0M109.5 195.2h0M129.2 183.1h0M88.0 199.6h0M86.2 205.4h0M110.1 187.8h0M113.2 180.8h0M86.9 206.7h0M84.7 191.3h0M124.2 183.7h0M123.9 184.1h0M114.3 193.3h0M122.2 180.5h0M103.8 192.9h0M107.1 189.4h0M186.0 210.2h0M123.9 190.5h0M127.6 178.5h0M107.5 194.6h0M107.7 213.7h0M135.2 182.4h0M82.4 204.1h0M131.7 189.9h0M141.5 177.0h0M108.2 194.3h0M64.8 202.3h0M131.4 179.4h0M106.7 187.4h0M90.4 198.7h0M83.7 198.1h0M118.7 185.1h0M149.9 189.8h0M111.2 194.1h0M106.2 195.2h0M93.8 192.3h0M157.3 175.1h0M114.6 188.5h0M130.7 186.1h0M144.9 186.7h0M96.6 213.5h0M104.8 210.2h0M110.2 183.1h0M152.2 169.4h0M121.5 178.1h0M111.7 193.6h0M96.6 192.0h0M142.1 194.4h0M111.4 188.8h0M142.4 184.0h0M103.9 192.3h0M109.1 240.0h0M153.1 160.5h0M100.0 211.6h0M107.8 180.0h0M144.1 198.7h0M74.7 203.9h0M86.2 204.3h0M119.8 188.8h0M156.2 192.4h0M125.3 185.4h0M97.0 196.3h0M96.3 199.2h0M123.8 186.6h0M102.6 197.3h0M81.3 206.8h0M66.1 200.7h0M67.2 198.7h0M83.8 201.8h0M134.1 183.6h0M101.3 188.2h0M85.1 213.5h0M107.0 231.7h0M84.0 192.2h0M131.8 188.9h0M122.3 187.8h0M138.3 186.9h0M97.8 182.9h0M86.3 201.6h0M64.4 202.1h0M77.8 190.2h0M90.0 197.3h0M137.4 187.8h0M150.2 183.0h0M121.0 190.2h0M80.4 198.8h0M112.9 189.3h0M79.2 201.3h0M165.6 155.3h0M191.3 133.4h0M97.2 195.8h0M99.9 192.8h0M93.8 190.7h0M122.2 179.9h0M87.1 231.7h0M112.1 191.5h0M105.8 190.3h0M121.3 185.4h0M197.5 155.6h0M132.4 186.1h0M194.6 162.3h0M119.0 181.6h0M118.7 211.6h0M122.4 189.0h0M140.7 174.6h0M75.2 195.2h0M68.2 202.9h0M142.6 188.7h0M125.8 172.9h0M89.5 202.4h0M112.9 188.8h0M100.1 219.4h0M132.4 182.8h0M84.7 200.9h0M76.5 196.7h0M115.3 185.3h0M134.5 189.6h0M84.4 196.6h0M61.0 209.0h0M140.3 183.9h0M172.0 240.0h0M165.4 207.3h0M138.5 189.4h0M97.1 195.4h0M117.8 240.0h0M182.1 240.0h0M91.5 187.2h0M148.2 190.1h0M84.6 197.9h0M92.8 196.0h0M183.8 210.7h0M175.1 240.0h0M119.7 188.9h0M133.4 189.7h0M138.9 186.0h0M129.3 180.3h0M89.3 200.7h0M88.2 201.7h0M93.6 193.4h0M127.4 190.2h0M107.3 195.4h0M101.2 189.7h0M88.8 202.2h0M127.9 189.3h0M127.6 178.0h0M111.2 187.4h0M105.2 193.4h0M96.8 197.1h0M133.1 184.1h0M94.7 197.6h0M105.1 192.3h0M110.1 191.6h0M89.0 199.6h0M109.5 190.7h0M106.6 187.6h0M102.5 195.4h0M147.0 192.4h0M143.2 240.0h0M143.1 186.4h0M138.2 188.6h0M140.6 184.1h0M75.9 201.3h0M177.1 231.7h0M108.1 194.1h0M126.3 180.3h0M161.0 186.6h0M103.5 192.2h0M114.8 184.3h0M80.9 208.6h0M89.7 203.3h0M143.6 190.5h0M99.5 196.4h0M132.8 188.7h0M119.4 189.1h0M106.2 211.4h0M136.4 188.7h0M52.0 213.9h0M96.1 200.5h0M125.1 187.8h0M79.3 195.3h0M96.2 199.0h0M76.7 199.1h0M135.9 183.4h0M139.2 186.2h0M122.2 190.5h0M143.4 180.0h0M149.3 178.8h0M92.7 197.5h0M111.0 240.0h0M97.5 199.7h0M87.9 203.6h0M108.5 194.7h0M108.5 188.2h0M134.5 180.0h0M117.7 220.9h0M125.5 190.3h0M116.4 178.8h0M109.6 187.3h0M112.7 240.0h0M130.9 190.1h0M133.9 171.2h0M127.7 184.0h0M128.6 187.3h0M117.4 190.1h0M120.9 180.8h0M131.5 187.6h0M94.6 201.2h0M74.4 216.9h0M111.5 191.8h0M87.7 196.9h0M100.0 192.1h0M111.6 177.6h0M113.2 190.3h0M89.0 198.1h0M161.0 186.3h0M171.9 155.5h0M98.0 209.8h0M146.3 194.6h0M137.1 187.1h0M83.3 192.3h0M127.6 186.1h0M340.5 15.3h0M122.8 184.5h0M128.6 165.0h0M136.4 190.0h0M92.3 191.4h0M107.0 211.9h0M129.1 185.1h0M108.6 194.0h0M84.2 206.0h0M132.1 185.5h0M83.2 207.6h0M102.7 211.3h0M117.8 186.7h0M124.3 183.4h0M108.2 220.5h0M86.5 194.2h0M148.6 193.6h0M115.8 182.2h0M109.6 190.3h0M111.2 192.6h0M144.9 177.9h0M115.5 184.9h0M144.3 193.3h0M85.3 203.7h0M181.9 231.7h0M91.5 199.2h0M118.9 192.1h0M148.9 193.5h0M68.3 200.6h0M145.0 188.9h0M94.4 209.7h0M136.0 183.9h0M123.3 188.2h0M116.6 220.2h0M116.9 182.6h0M111.7 240.0h0M122.9 183.9h0M110.3 185.7h0M74.6 198.1h0M131.5 180.0h0M103.2 192.1h0M150.0 181.9h0M146.4 188.7h0M115.1 172.6h0M138.3 191.0h0M105.5 188.3h0M89.9 202.0h0M106.2 194.3h0M91.4 201.1h0M145.4 182.2h0M130.9 189.3h0M95.1 191.7h0M104.8 184.6h0M105.7 210.5h0M77.0 204.8h0M114.9 185.5h0M120.6 187.6h0M124.9 186.4h0M112.2 189.2h0M92.8 196.2h0M65.7 206.3h0M137.3 182.1h0M106.8 194.5h0M110.3 180.3h0M114.9 192.1h0M83.6 205.0h0M131.8 187.1h0M100.2 198.8h0M158.4 151.1h0M113.2 188.3h0M90.6 194.1h0M113.9 184.1h0M135.0 188.7h0M88.9 222.6h0M73.0 191.2h0M101.0 198.0h0M119.5 181.2h0M89.4 203.0h0M105.9 183.1h0M103.9 195.9h0M97.1 195.3h0M64.0 205.5h0M85.4 209.3h0M81.3 196.3h0M148.9 192.1h0M127.8 186.8h0M81.7 203.8h0M112.3 193.6h0M147.3 195.2h0M97.1 198.9h0M89.4 202.3h0M104.0 182.4h0M94.4 190.6h0M123.1 172.4h0M77.8 203.0h0M141.7 173.9h0M101.3 190.8h0M143.4 192.8h0M128.2 177.6h0M96.1 182.7h0M111.6 187.5h0M109.2 193.0h0M97.8 197.9h0M100.5 196.4h0M103.9 196.5h0M73.8 195.4h0M133.0 169.2h0M100.7 194.4h0M106.4 194.5h0M93.6 220.6h0M141.4 182.8h0M81.0 201.4h0M96.1 193.7h0M111.5 187.7h0M139.1 176.4h0M122.4 185.4h0M104.5 191.9h0M102.0 193.7h0M69.7 211.1h0M100.2 190.1h0M121.9 185.0h0M99.3 212.4h0M105.2 193.7h0M83.1 204.5h0M113.6 192.8h0M88.2 194.2h0M110.1 175.2h0M149.2 189.0h0M127.9 187.8h0M113.1 189.2h0M102.6 193.1h0M149.9 200.9h0M136.0 186.6h0M93.1 200.9h0M166.0 190.5h0M65.3 209.5h0M91.6 197.5h0M85.5 201.9h0M96.4 197.6h0M121.6 186.3h0M97.0 190.0h0M105.4 195.0h0M97.0 198.2h0M138.0 185.8h0M99.1 199.0h0M96.9 195.3h0M178.8 138.2h0M86.3 191.0h0M76.6 197.2h0M94.2 195.5h0M78.7 198.4h0M77.0 199.5h0M110.5 194.4h0M133.1 180.8h0M109.9 186.0h0M139.1 191.5h0M118.8 192.3h0M112.1 180.4h0M105.7 196.4h0M153.1 183.1h0M126.5 183.7h0M128.8 189.2h0M107.2 194.4h0M126.2 231.7h0M97.0 194.8h0M100.8 192.7h0M206.6 166.0h0M104.1 183.6h0M103.2 189.0h0M100.2 191.7h0M117.6 185.9h0M122.2 191.0h0M111.2 189.1h0M101.9 212.2h0M116.7 190.8h0M116.6 177.9h0M75.7 200.5h0M96.2 191.7h0M102.8 189.1h0M101.4 195.7h0M82.8 220.6h0M155.6 181.1h0M96.7 197.3h0M105.7 187.6h0M124.1 181.9h0M73.9 197.6h0M110.5 194.2h0M131.0 182.7h0M128.8 182.4h0M142.3 187.1h0M131.0 185.1h0M83.1 205.8h0M97.4 189.6h0M122.6 184.9h0M91.6 209.3h0M89.8 208.3h0M106.6 183.7h0M109.2 187.7h0M108.9 195.4h0M109.7 193.6h0M97.8 199.3h0M81.0 211.6h0M121.9 184.8h0M85.2 198.3h0M84.0 204.3h0M88.0 200.4h0M126.6 182.9h0M87.7 216.3h0M154.8 188.3h0M136.1 185.5h0M130.0 182.7h0M99.8 196.8h0M114.4 182.6h0M123.7 187.1h0M86.3 206.9h0M97.1 198.5h0M154.7 222.5h0M108.0 192.9h0M137.1 177.7h0M107.5 190.1h0M117.4 181.6h0M152.4 240.0h0M116.4 182.9h0M98.4 212.2h0M82.3 204.1h0M152.9 181.3h0M123.3 169.1h0M118.1 192.3h0M161.9 214.2h0M141.2 182.2h0M149.7 181.3h0M142.0 185.2h0M107.9 173.9h0M132.2 189.6h0M104.8 195.3h0M134.9 187.1h0M124.6 182.9h0M182.3 180.4h0M93.1 193.7h0M127.6 184.3h0M99.5 214.1h0M82.1 207.3h0M126.5 189.0h0M109.8 181.1h0M95.7 197.6h0M159.0 180.1h0M87.1 201.9h0M92.6 198.2h0M156.1 190.7h0M87.8 182.4h0M112.8 187.7h0M96.9 197.9h0M141.3 192.6h0M97.6 198.6h0M70.0 213.0h0M97.9 198.4h0M155.9 184.0h0M123.5 190.9h0M74.3 194.0h0M92.1 201.7h0M90.2 206.7h0M119.8 189.8h0M107.6 195.0h0M135.8 178.4h0M105.8 185.8h0M106.3 192.6h0M97.5 214.8h0M97.0 190.3h0M137.1 180.1h0M97.3 196.4h0M85.1 191.8h0M119.1 183.8h0M107.1 187.9h0M90.1 202.5h0M129.8 189.2h0M134.9 184.8h0M112.6 185.0h0M139.6 188.3h0M130.8 185.2h0M100.2 196.0h0M88.7 210.1h0M77.0 198.3h0M123.3 184.3h0M117.5 189.0h0M132.9 185.6h0M100.9 195.6h0M140.4 186.0h0M181.1 145.9h0M196.5 220.2h0M182.6 221.1h0M96.8 200.0h0M138.8 185.5h0M130.9 188.1h0M128.5 172.3h0M121.3 189.5h0M130.1 240.0h0M87.7 198.0h0M66.1 206.0h0M97.1 193.9h0M79.9 200.2h0M139.3 179.3h0M126.2 185.4h0M111.2 188.7h0M177.5 170.9h0M105.9 195.8h0M88.0 194.3h0M124.2 185.5h0M114.4 193.1h0M76.6 195.9h0M120.0 184.3h0M132.0 186.5h0M135.0 186.8h0M115.0 181.7h0M82.2 196.4h0M150.9 194.0h0M102.0 197.4h0M97.3 197.9h0M82.6 197.1h0M127.0 186.7h0M167.7 166.6h0M164.4 184.7h0M88.7 204.6h0M173.2 231.7h0M130.2 190.2h0M104.8 181.0h0M115.5 188.3h0M80.9 201.7h0M99.7 191.4h0M113.8 192.2h0M100.9 196.4h0M74.4 196.5h0M81.3 208.7h0M123.6 190.2h0M129.6 177.2h0M93.6 196.0h0M97.5 186.3h0M91.1 190.3h0M100.3 194.3h0M144.0 188.3h0M107.7 190.6h0M137.3 187.1h0M114.0 191.1h0M92.4 211.5h0M85.2 203.1h0M96.8 192.3h0M62.3 219.5h0M117.9 184.9h0M139.3 188.9h0M105.0 184.1h0M167.7 146.4h0M167.2 214.2h0M78.2 220.4h0M125.6 186.8h0M103.5 193.5h0M121.2 188.2h0M107.8 185.3h0M167.1 170.3h0M115.4 240.0h0M132.6 185.9h0M144.1 191.1h0M109.0 192.3h0M99.4 187.0h0M150.6 187.5h0M121.5 186.4h0M95.7 197.3h0M118.9 191.0h0M74.5 202.1h0M127.6 188.6h0M96.7 197.3h0M173.0 152.7h0M129.6 190.2h0M123.6 190.9h0M89.9 202.5h0M109.1 181.7h0M91.0 208.5h0M138.8 188.4h0M93.9 190.1h0M85.8 191.9h0M96.8 225.3h0M113.7 190.1h0M96.9 212.8h0M140.2 179.2h0M161.1 175.5h0M105.4 210.5h0M136.9 240.0h0M127.3 186.0h0M115.1 185.9h0M88.4 201.6h0M168.3 240.0h0M89.2 193.4h0M195.4 141.3h0M88.0 198.3h0M111.7 183.4h0M96.1 194.1h0M88.5 192.7h0M119.3 190.0h0M150.8 188.9h0M123.2 189.7h0M77.0 202.0h0M97.8 198.7h0M138.2 174.5h0M148.6 168.5h0M103.8 219.8h0M251.9 113.3h0M101.7 186.4h0M93.4 199.1h0M148.3 176.1h0M152.6 219.1h0M105.5 195.8h0M105.8 212.2h0M107.8 195.6h0M116.1 192.8h0M117.1 190.9h0M93.8 193.6h0M114.3 190.0h0M101.7 192.4h0M90.2 197.1h0M148.8 175.1h0M99.4 194.4h0M84.0 197.0h0M109.3 212.0h0M225.6 135.4h0M117.9 189.3h0M80.5 212.4h0M121.7 189.5h0M88.3 200.7h0M92.7 189.9h0M168.4 181.6h0M103.2 194.6h0M133.3 188.0h0M115.2 180.9h0M176.5 177.2h0M132.7 189.0h0M110.1 193.0h0M120.1 186.5h0M109.8 183.3h0M132.0 178.8h0M76.0 184.4h0M118.6 188.2h0M116.4 182.0h0M142.3 196.5h0M209.5 152.7h0M79.7 194.8h0M92.8 209.4h0M213.8 144.5h0M166.2 214.2h0M132.6 183.2h0M114.2 188.4h0M147.0 182.9h0M120.0 191.7h0M95.5 190.3h0M143.1 194.2h0M109.2 184.6h0M143.7 183.3h0M135.3 165.7h0M121.3 240.0h0M99.3 198.0h0M123.7 189.4h0M140.5 181.1h0M94.8 187.4h0M111.1 189.7h0M80.9 193.0h0M124.5 188.5h0M153.9 194.5h0M95.2 210.3h0M69.6 199.8h0M79.5 205.2h0M125.3 240.0h0M123.5 185.3h0M95.8 191.4h0M98.3 198.9h0M88.7 202.4h0M112.1 190.6h0M80.8 190.9h0M163.6 173.0h0M88.8 206.2h0M88.4 220.8h0M79.1 199.9h0M82.7 206.4h0M140.2 157.3h0M90.6 192.5h0M104.1 192.6h0M102.0 198.0h0M122.6 185.5h0M88.0 202.6h0M73.6 199.6h0M85.9 197.4h0M108.8 211.3h0M139.5 184.1h0M137.4 176.1h0M132.1 189.6h0M114.7 173.1h0M91.7 208.5h0M116.0 185.1h0M114.4 179.2h0M122.0 188.9h0M82.7 206.8h0M144.2 190.9h0M111.0 182.3h0M148.9 190.7h0M97.4 187.8h0M140.0 185.7h0M100.4 196.5h0M101.2 189.7h0M159.2 168.0h0M114.5 186.7h0M142.9 193.0h0M87.5 200.0h0M115.4 184.2h0M89.8 181.6h0M87.1 201.8h0M113.6 240.0h0M110.6 190.5h0M122.0 180.0h0M79.1 197.0h0M111.2 187.3h0M176.0 214.2h0M160.3 171.5h0M141.0 184.2h0M72.9 231.7h0M100.8 187.5h0M119.0 185.8h0M88.8 200.7h0M130.3 188.2h0M134.3 179.1h0M159.0 144.5h0M124.8 185.1h0M166.0 164.2h0M91.7 211.0h0M96.6 192.0h0M78.4 200.4h0M155.5 169.1h0M140.0 185.1h0M126.4 179.7h0M123.8 185.5h0M105.0 191.5h0M94.4 196.0h0M94.4 199.7h0M128.9 180.6h0M104.5 180.9h0M102.7 190.8h0M121.5 191.0h0M104.5 182.9h0M96.4 195.7h0M97.6 185.5h0M102.4 195.9h0M126.0 240.0h0M140.5 178.7h0M112.1 184.1h0M111.8 182.6h0M138.3 183.1h0M108.7 192.4h0M126.5 177.6h0M104.9 183.1h0M152.0 182.2h0M105.4 195.6h0M98.4 195.3h0M88.9 207.5h0M124.3 231.7h0M96.4 190.7h0M123.8 180.5h0M85.5 206.6h0M139.5 179.2h0M79.1 190.3h0M90.0 196.3h0M115.2 188.0h0M123.4 189.4h0M100.7 188.8h0M114.5 183.8h0M99.4 193.5h0M122.4 240.0h0M121.6 191.0h0M88.1 207.6h0M139.6 193.8h0M114.2 186.5h0M111.4 185.4h0M139.1 167.7h0M89.5 207.8h0M129.9 188.7h0M102.0 195.7h0M104.1 192.7h0M93.6 214.9h0M83.0 204.4h0M82.8 203.3h0M136.3 171.3h0M99.8 186.8h0M330.2 51.8h0M90.3 207.8h0M108.3 195.2h0M97.6 190.2h0M88.2 204.2h0M148.4 179.5h0M99.9 193.8h0M87.5 198.5h0M146.8 194.6h0M108.0 188.5h0M145.6 199.8h0M102.7 195.8h0M94.1 194.6h0M135.1 177.7h0M154.0 184.3h0M129.6 188.1h0M92.1 190.9h0M138.6 170.3h0M122.7 186.7h0M116.4 192.5h0M173.3 171.8h0M120.5 188.2h0M104.9 195.5h0M122.8 219.4h0M148.1 193.8h0M89.4 199.7h0M122.1 186.3h0M99.2 197.6h0M95.5 196.9h0M139.8 180.2h0M89.3 195.5h0M103.4 196.8h0M149.0 240.0h0M108.2 182.3h0M120.3 183.7h0M134.5 186.9h0M99.3 189.9h0M91.1 198.7h0M117.9 190.4h0M85.6 233.2h0M173.3 231.7h0M117.6 192.4h0M111.4 189.6h0M121.8 190.5h0M90.7 199.8h0M93.7 196.5h0M140.9 176.8h0M96.6 193.6h0M111.7 192.7h0M117.6 188.6h0M136.8 184.4h0M139.7 191.2h0M203.4 206.8h0M134.9 184.1h0M118.8 189.2h0M152.4 164.3h0M92.6 195.9h0M91.8 201.0h0M119.1 211.4h0M107.8 187.2h0M87.2 196.7h0M127.9 181.5h0M100.0 195.9h0M138.8 190.0h0M157.5 185.0h0M99.5 193.3h0M127.6 190.2h0M101.6 191.2h0M137.1 188.8h0M107.5 185.4h0M169.9 171.1h0M104.1 192.1h0M120.4 190.9h0M105.6 194.5h0M159.1 193.0h0M84.6 197.0h0M83.7 210.6h0M92.9 196.4h0M135.2 182.3h0M137.9 169.7h0M92.5 211.4h0M116.8 188.4h0M83.9 198.5h0M155.2 240.0h0M106.9 191.0h0M135.7 188.2h0M127.9 188.8h0M117.3 186.4h0M120.2 187.0h0M102.2 196.5h0M118.5 240.0h0M90.6 196.9h0M133.2 181.8h0M83.5 194.5h0M91.3 209.2h0M136.5 186.2h0M129.6 188.0h0M141.6 172.0h0M97.7 194.8h0M101.3 194.0h0M121.9 176.9h0M136.7 186.0h0M87.8 191.4h0M115.2 189.7h0M140.6 222.7h0M90.6 191.6h0M118.8 189.1h0M88.7 199.1h0M88.2 210.4h0M90.7 194.5h0M94.7 210.5h0M96.6 195.7h0M166.7 176.8h0M141.5 193.9h0M111.9 191.6h0M106.6 192.6h0M144.9 178.1h0M149.1 185.2h0M119.3 191.0h0M135.5 176.9h0M130.0 186.4h0M150.9 182.7h0M108.2 211.4h0M73.2 199.4h0M100.2 197.9h0M122.8 219.8h0M111.6 188.4h0M106.9 190.8h0M84.1 202.3h0M78.4 210.9h0M125.4 186.3h0M128.1 187.4h0M87.0 194.8h0M136.8 183.6h0M127.1 180.7h0" stroke="#55A868" stroke-opacity="0.8" stroke-width="2.1" stroke-linecap="round" fill="none"/>
<path d="M89.00 205.00C89.00 204.12 90.77 203.25 92.00 202.50C93.23 201.75 92.93 201.90 96.40 200.50C99.87 199.10 108.03 195.68 112.80 194.10C117.57 192.52 121.45 191.67 125.00 191.00C128.55 190.33 131.85 189.85 134.10 190.10C136.35 190.35 137.43 191.35 138.50 192.50C139.57 193.65 140.58 195.42 140.50 197.00C140.42 198.58 139.37 200.33 138.00 202.00C136.63 203.67 135.68 205.55 132.30 207.00C128.92 208.45 123.28 210.30 117.70 210.70C112.12 211.10 103.08 209.88 98.80 209.40C94.52 208.92 93.63 208.53 92.00 207.80C90.37 207.07 89.00 205.88 89.00 205.00Z" fill="#58a86b"/>
<path d="M30.00 204.00C33.17 202.83 44.00 199.15 49.00 197.50C54.00 195.85 56.65 195.87 60.00 194.10C63.35 192.33 66.07 189.32 69.10 186.90C72.13 184.48 75.60 182.00 78.20 179.60C80.80 177.20 82.57 174.57 84.70 172.50C86.83 170.43 88.62 168.87 91.00 167.20C93.38 165.53 97.00 163.52 99.00 162.50C101.00 161.48 101.47 161.22 103.00 161.10C104.53 160.98 106.55 161.80 108.20 161.80C109.85 161.80 110.90 162.10 112.90 161.10C114.90 160.10 117.45 157.90 120.20 155.80C122.95 153.70 126.98 149.82 129.40 148.50C131.82 147.18 132.05 148.67 134.70 147.90C137.35 147.13 141.92 145.35 145.30 143.90C148.68 142.45 151.88 140.68 155.00 139.20C158.12 137.72 160.42 136.53 164.00 135.00C167.58 133.47 173.25 131.17 176.50 130.00C179.75 128.83 181.00 128.75 183.50 128.00C186.00 127.25 187.93 126.02 191.50 125.50C195.07 124.98 201.00 125.17 204.90 124.90C208.80 124.63 211.58 124.40 214.90 123.90C218.22 123.40 221.98 123.07 224.80 121.90C227.62 120.73 229.65 118.33 231.80 116.90C233.95 115.47 235.72 113.63 237.70 113.30C239.68 112.97 241.95 113.97 243.70 114.90C245.45 115.83 247.62 117.68 248.20 118.90C248.78 120.12 247.78 121.10 247.20 122.20C246.62 123.30 245.28 123.90 244.70 125.50C244.12 127.10 244.70 129.42 243.70 131.80C242.70 134.18 240.52 137.47 238.70 139.80C236.88 142.13 235.12 143.82 232.80 145.80C230.48 147.78 226.93 149.58 224.80 151.70C222.67 153.82 222.05 155.87 220.00 158.50C217.95 161.13 215.42 164.17 212.50 167.50C209.58 170.83 205.78 174.83 202.50 178.50C199.22 182.17 195.47 186.42 192.80 189.50C190.13 192.58 188.13 194.50 186.50 197.00C184.87 199.50 184.33 202.53 183.00 204.50C181.67 206.47 181.33 207.55 178.50 208.80C175.67 210.05 170.92 210.95 166.00 212.00C161.08 213.05 155.00 214.27 149.00 215.10C143.00 215.93 137.33 216.62 130.00 217.00C122.67 217.38 112.55 217.48 105.00 217.40C97.45 217.32 90.53 216.93 84.70 216.50C78.87 216.07 74.12 215.47 70.00 214.80C65.88 214.13 63.50 213.37 60.00 212.50C56.50 211.63 54.00 210.93 49.00 209.60C44.00 208.27 33.17 205.43 30.00 204.50C26.83 203.57 26.83 205.17 30.00 204.00Z" fill="none" stroke="#141414" stroke-width="1.8"/>
<path d="M67.30 204.20C66.97 202.90 68.48 202.18 70.00 200.50C71.52 198.82 73.52 196.37 76.40 194.10C79.28 191.83 82.45 189.47 87.30 186.90C92.15 184.33 100.38 180.93 105.50 178.70C110.62 176.47 114.23 174.95 118.00 173.50C121.77 172.05 124.65 171.73 128.10 170.00C131.55 168.27 134.22 164.92 138.70 163.10C143.18 161.28 151.13 159.97 155.00 159.10C158.87 158.23 157.77 159.05 161.90 157.90C166.03 156.75 175.45 152.82 179.80 152.20C184.15 151.58 185.97 152.90 188.00 154.20C190.03 155.50 192.37 156.87 192.00 160.00C191.63 163.13 188.17 168.70 185.80 173.00C183.43 177.30 180.77 181.83 177.80 185.80C174.83 189.77 171.67 193.52 168.00 196.80C164.33 200.08 160.00 203.05 155.80 205.50C151.60 207.95 148.10 210.03 142.80 211.50C137.50 212.97 131.13 213.92 124.00 214.30C116.87 214.68 106.17 214.18 100.00 213.80C93.83 213.42 91.67 212.92 87.00 212.00C82.33 211.08 75.28 209.60 72.00 208.30C68.72 207.00 67.63 205.50 67.30 204.20Z" fill="none" stroke="#141414" stroke-width="1.8"/>
<path d="M79.00 204.50C78.83 203.25 80.62 202.27 82.00 201.00C83.38 199.73 83.38 198.95 87.30 196.90C91.22 194.85 100.38 190.68 105.50 188.70C110.62 186.72 114.25 186.20 118.00 185.00C121.75 183.80 124.40 182.58 128.00 181.50C131.60 180.42 135.85 178.75 139.60 178.50C143.35 178.25 147.93 178.83 150.50 180.00C153.07 181.17 154.70 183.37 155.00 185.50C155.30 187.63 153.97 190.07 152.30 192.80C150.63 195.53 147.73 199.32 145.00 201.90C142.27 204.48 139.40 206.78 135.90 208.30C132.40 209.82 128.08 210.38 124.00 211.00C119.92 211.62 117.07 212.05 111.40 212.00C105.73 211.95 94.73 211.28 90.00 210.70C85.27 210.12 84.83 209.53 83.00 208.50C81.17 207.47 79.17 205.75 79.00 204.50Z" fill="none" stroke="#141414" stroke-width="1.8"/>
<path d="M89.00 205.00C89.00 204.12 90.77 203.25 92.00 202.50C93.23 201.75 92.93 201.90 96.40 200.50C99.87 199.10 108.03 195.68 112.80 194.10C117.57 192.52 121.45 191.67 125.00 191.00C128.55 190.33 131.85 189.85 134.10 190.10C136.35 190.35 137.43 191.35 138.50 192.50C139.57 193.65 140.58 195.42 140.50 197.00C140.42 198.58 139.37 200.33 138.00 202.00C136.63 203.67 135.68 205.55 132.30 207.00C128.92 208.45 123.28 210.30 117.70 210.70C112.12 211.10 103.08 209.88 98.80 209.40C94.52 208.92 93.63 208.53 92.00 207.80C90.37 207.07 89.00 205.88 89.00 205.00Z" fill="none" stroke="#141414" stroke-width="1.8"/>
</g>
<g fill="#4C72B0" fill-opacity="1" stroke="#fff" stroke-opacity="0.85" stroke-width="1.1"><rect x="402.9" y="15.64" width="8.4" height="3.47"/><rect x="402.9" y="22.58" width="18.8" height="3.47"/><rect x="402.9" y="26.05" width="8.4" height="3.47"/><rect x="402.9" y="29.52" width="18.8" height="3.47"/><rect x="402.9" y="36.46" width="25.3" height="3.47"/><rect x="402.9" y="43.40" width="8.4" height="3.47"/><rect x="402.9" y="46.87" width="18.6" height="3.47"/><rect x="402.9" y="50.34" width="18.6" height="3.47"/><rect x="402.9" y="53.80" width="37.7" height="3.47"/><rect x="402.9" y="57.27" width="37.7" height="3.47"/><rect x="402.9" y="60.75" width="35.4" height="3.47"/><rect x="402.9" y="64.22" width="29.6" height="3.47"/><rect x="402.9" y="67.69" width="48.4" height="3.47"/><rect x="402.9" y="71.16" width="35.4" height="3.47"/><rect x="402.9" y="74.62" width="53.4" height="3.47"/><rect x="402.9" y="78.10" width="51.5" height="3.47"/><rect x="402.9" y="81.57" width="56.7" height="3.47"/><rect x="402.9" y="85.04" width="56.7" height="3.47"/><rect x="402.9" y="88.51" width="60.5" height="3.47"/><rect x="402.9" y="91.98" width="62.8" height="3.47"/><rect x="402.9" y="95.45" width="68.7" height="3.47"/><rect x="402.9" y="98.92" width="67.4" height="3.47"/><rect x="402.9" y="102.39" width="71.2" height="3.47"/><rect x="402.9" y="105.86" width="77.4" height="3.47"/><rect x="402.9" y="109.33" width="75.1" height="3.47"/><rect x="402.9" y="112.80" width="84.0" height="3.47"/><rect x="402.9" y="116.27" width="82.5" height="3.47"/><rect x="402.9" y="119.74" width="85.1" height="3.47"/><rect x="402.9" y="123.21" width="88.1" height="3.47"/><rect x="402.9" y="126.67" width="92.5" height="3.47"/><rect x="402.9" y="130.14" width="98.0" height="3.47"/><rect x="402.9" y="133.61" width="101.0" height="3.47"/><rect x="402.9" y="137.08" width="104.7" height="3.47"/><rect x="402.9" y="140.56" width="110.1" height="3.47"/><rect x="402.9" y="144.03" width="113.6" height="3.47"/><rect x="402.9" y="147.50" width="116.7" height="3.47"/><rect x="402.9" y="150.97" width="121.1" height="3.47"/><rect x="402.9" y="154.44" width="124.3" height="3.47"/><rect x="402.9" y="157.91" width="129.6" height="3.47"/><rect x="402.9" y="161.38" width="133.7" height="3.47"/><rect x="402.9" y="164.84" width="138.2" height="3.47"/><rect x="402.9" y="168.31" width="140.6" height="3.47"/><rect x="402.9" y="171.78" width="145.0" height="3.47"/><rect x="402.9" y="175.25" width="147.4" height="3.47"/><rect x="402.9" y="178.72" width="152.5" height="3.47"/><rect x="402.9" y="182.19" width="155.2" height="3.47"/><rect x="402.9" y="185.66" width="161.0" height="3.47"/><rect x="402.9" y="189.13" width="161.8" height="3.47"/><rect x="402.9" y="192.60" width="167.8" height="3.47"/><rect x="402.9" y="196.07" width="169.6" height="3.47"/><rect x="402.9" y="199.55" width="174.8" height="3.47"/><rect x="402.9" y="203.02" width="176.7" height="3.47"/><rect x="402.9" y="206.49" width="178.3" height="3.47"/></g>
<g fill="#55A868" fill-opacity="0.82" stroke="#fff" stroke-opacity="0.85" stroke-width="1.1"><rect x="402.9" y="12.17" width="8.6" height="3.47"/><rect x="402.9" y="29.52" width="8.6" height="3.47"/><rect x="402.9" y="32.98" width="8.6" height="3.47"/><rect x="402.9" y="46.87" width="8.6" height="3.47"/><rect x="402.9" y="57.27" width="8.6" height="3.47"/><rect x="402.9" y="64.22" width="8.6" height="3.47"/><rect x="402.9" y="67.69" width="8.6" height="3.47"/><rect x="402.9" y="71.16" width="8.6" height="3.47"/><rect x="402.9" y="85.04" width="8.6" height="3.47"/><rect x="402.9" y="88.51" width="25.6" height="3.47"/><rect x="402.9" y="91.98" width="19.2" height="3.47"/><rect x="402.9" y="95.45" width="19.2" height="3.47"/><rect x="402.9" y="98.92" width="8.6" height="3.47"/><rect x="402.9" y="105.86" width="8.6" height="3.47"/><rect x="402.9" y="109.33" width="19.2" height="3.47"/><rect x="402.9" y="119.74" width="19.2" height="3.47"/><rect x="402.9" y="123.21" width="8.6" height="3.47"/><rect x="402.9" y="126.67" width="19.2" height="3.47"/><rect x="402.9" y="130.14" width="25.7" height="3.47"/><rect x="402.9" y="133.61" width="30.2" height="3.47"/><rect x="402.9" y="137.08" width="26.0" height="3.47"/><rect x="402.9" y="140.56" width="30.2" height="3.47"/><rect x="402.9" y="144.03" width="33.5" height="3.47"/><rect x="402.9" y="147.50" width="26.0" height="3.47"/><rect x="402.9" y="150.97" width="26.0" height="3.47"/><rect x="402.9" y="154.44" width="19.2" height="3.47"/><rect x="402.9" y="157.91" width="30.2" height="3.47"/><rect x="402.9" y="161.38" width="38.2" height="3.47"/><rect x="402.9" y="164.84" width="38.2" height="3.47"/><rect x="402.9" y="168.31" width="46.4" height="3.47"/><rect x="402.9" y="171.78" width="49.9" height="3.47"/><rect x="402.9" y="175.25" width="52.6" height="3.47"/><rect x="402.9" y="178.72" width="62.1" height="3.47"/><rect x="402.9" y="182.19" width="83.7" height="3.47"/><rect x="402.9" y="185.66" width="91.0" height="3.47"/><rect x="402.9" y="189.13" width="101.8" height="3.47"/><rect x="402.9" y="192.60" width="105.8" height="3.47"/><rect x="402.9" y="196.07" width="95.6" height="3.47"/><rect x="402.9" y="199.55" width="99.0" height="3.47"/><rect x="402.9" y="203.02" width="95.1" height="3.47"/><rect x="402.9" y="206.49" width="91.3" height="3.47"/><rect x="402.9" y="209.96" width="81.7" height="3.47"/><rect x="402.9" y="213.43" width="75.1" height="3.47"/><rect x="402.9" y="216.90" width="60.2" height="3.47"/><rect x="402.9" y="220.37" width="53.4" height="3.47"/><rect x="402.9" y="223.84" width="37.7" height="3.47"/><rect x="402.9" y="227.31" width="35.4" height="3.47"/><rect x="402.9" y="230.78" width="60.5" height="3.47"/><rect x="402.9" y="234.25" width="8.4" height="3.47"/><rect x="402.9" y="237.72" width="70.7" height="3.47"/></g>
<g fill="none" stroke="#262626" stroke-width="1.45" stroke-linecap="square">
<rect x="49.2" y="2.0" width="340.6" height="259.8"/>
<rect x="402.9" y="2.0" width="187.0" height="259.8"/>
<path d="M43.6 22.0H49.2M397.3 22.0H402.9M589.9 22.0H595.5M43.6 61.8H49.2M397.3 61.8H402.9M589.9 61.8H595.5M43.6 91.9H49.2M397.3 91.9H402.9M589.9 91.9H595.5M43.6 131.7H49.2M397.3 131.7H402.9M589.9 131.7H595.5M43.6 161.8H49.2M397.3 161.8H402.9M589.9 161.8H595.5M43.6 191.9H49.2M397.3 191.9H402.9M589.9 191.9H595.5M43.6 231.7H49.2M397.3 231.7H402.9M589.9 231.7H595.5M43.6 261.8H49.2M397.3 261.8H402.9M589.9 261.8H595.5M49.2 261.8V267.6M101.6 261.8V267.6M154.0 261.8V267.6M206.4 261.8V267.6M258.8 261.8V267.6M311.2 261.8V267.6M363.6 261.8V267.6M446.5 261.8V267.6M516.8 261.8V267.6M587.1 261.8V267.6" stroke-linecap="butt"/>
</g>
<g stroke="#262626" stroke-width="0.1">
<text transform="translate(40.40 26.91) scale(1.170 1)" font-size="14.50" text-anchor="end" >25</text>
<text transform="translate(598.80 26.91) scale(1.170 1)" font-size="14.50" text-anchor="start" >25</text>
<text transform="translate(40.40 66.70) scale(1.170 1)" font-size="14.50" text-anchor="end" >10</text>
<text transform="translate(598.80 66.70) scale(1.170 1)" font-size="14.50" text-anchor="start" >10</text>
<text transform="translate(40.40 96.80) scale(1.170 1)" font-size="14.50" text-anchor="end" >5</text>
<text transform="translate(598.80 96.80) scale(1.170 1)" font-size="14.50" text-anchor="start" >5</text>
<text transform="translate(40.40 136.60) scale(1.170 1)" font-size="14.50" text-anchor="end" >2</text>
<text transform="translate(598.80 136.60) scale(1.170 1)" font-size="14.50" text-anchor="start" >2</text>
<text transform="translate(40.40 166.70) scale(1.170 1)" font-size="14.50" text-anchor="end" >1</text>
<text transform="translate(598.80 166.70) scale(1.170 1)" font-size="14.50" text-anchor="start" >1</text>
<text transform="translate(40.40 196.80) scale(1.170 1)" font-size="14.50" text-anchor="end" >0.5</text>
<text transform="translate(598.80 196.80) scale(1.170 1)" font-size="14.50" text-anchor="start" >0.5</text>
<text transform="translate(40.40 236.60) scale(1.170 1)" font-size="14.50" text-anchor="end" >0.2</text>
<text transform="translate(598.80 236.60) scale(1.170 1)" font-size="14.50" text-anchor="start" >0.2</text>
<text transform="translate(40.40 266.70) scale(1.170 1)" font-size="14.50" text-anchor="end" >0.1</text>
<text transform="translate(598.80 266.70) scale(1.170 1)" font-size="14.50" text-anchor="start" >0.1</text>
<text transform="translate(49.30 280.40) scale(1.170 1)" font-size="14.50" text-anchor="middle" >20</text>
<text transform="translate(101.70 280.40) scale(1.170 1)" font-size="14.50" text-anchor="middle" >18</text>
<text transform="translate(154.10 280.40) scale(1.170 1)" font-size="14.50" text-anchor="middle" >16</text>
<text transform="translate(206.50 280.40) scale(1.170 1)" font-size="14.50" text-anchor="middle" >14</text>
<text transform="translate(258.90 280.40) scale(1.170 1)" font-size="14.50" text-anchor="middle" >12</text>
<text transform="translate(311.30 280.40) scale(1.170 1)" font-size="14.50" text-anchor="middle" >10</text>
<text transform="translate(363.70 280.40) scale(1.170 1)" font-size="14.50" text-anchor="middle" >8</text>
<text transform="translate(444.25 281.00) scale(1.170 1)" font-size="14.50" text-anchor="middle" >10</text>
<text transform="translate(452.75 275.80) scale(1.200 1)" font-size="10.00" text-anchor="start" >1</text>
<text transform="translate(514.55 281.00) scale(1.170 1)" font-size="14.50" text-anchor="middle" >10</text>
<text transform="translate(523.05 275.80) scale(1.200 1)" font-size="10.00" text-anchor="start" >3</text>
<text transform="translate(584.85 281.00) scale(1.170 1)" font-size="14.50" text-anchor="middle" >10</text>
<text transform="translate(593.35 275.80) scale(1.200 1)" font-size="10.00" text-anchor="start" >5</text>
<g transform="translate(219.8 297.8) scale(1.165 1)"><text font-size="15.8" text-anchor="middle"><tspan font-style="italic">b</tspan><tspan font-style="italic" font-size="11" dy="1.8">t</tspan><tspan dy="-1.8"> (Vega mag)</tspan></text></g>
<text transform="translate(496.50 297.80) scale(1.155 1)" font-size="15.80" text-anchor="middle" >Number of Galaxies</text>
<g transform="translate(13.6 132.6) rotate(-90) scale(1.115 1)"><text font-size="15.8" text-anchor="middle"><tspan font-style="italic">D</tspan><tspan font-family="Liberation Sans, sans-serif" font-size="10" dy="1.5">L</tspan><tspan dy="-1.5">(25) (arcmin)</tspan></text></g>
<g transform="translate(626.0 131.7) rotate(90) scale(1.115 1)"><text font-size="15.8" text-anchor="middle"><tspan font-style="italic">D</tspan><tspan font-family="Liberation Sans, sans-serif" font-size="10" dy="1.5">L</tspan><tspan dy="-1.5">(25) (arcmin)</tspan></text></g>
</g>
<rect x="485.6" y="6.8" width="99.6" height="29" rx="2.5" fill="#fff" fill-opacity="0.8" stroke="#d9d9d9" stroke-width="0.9"/>
<rect x="489.4" y="11.3" width="17.9" height="5.3" fill="#4C72B0"/>
<rect x="489.4" y="24.1" width="17.9" height="5.7" fill="#55A868" fill-opacity="0.78"/>
<text transform="translate(515.80 17.00) scale(1.000 1)" font-size="12.00" text-anchor="start" fill="#333">HyperLeda</text>
<text transform="translate(515.80 29.90) scale(1.000 1)" font-size="12.00" text-anchor="start" fill="#333">Supplemental</text>
</svg></body></html>
